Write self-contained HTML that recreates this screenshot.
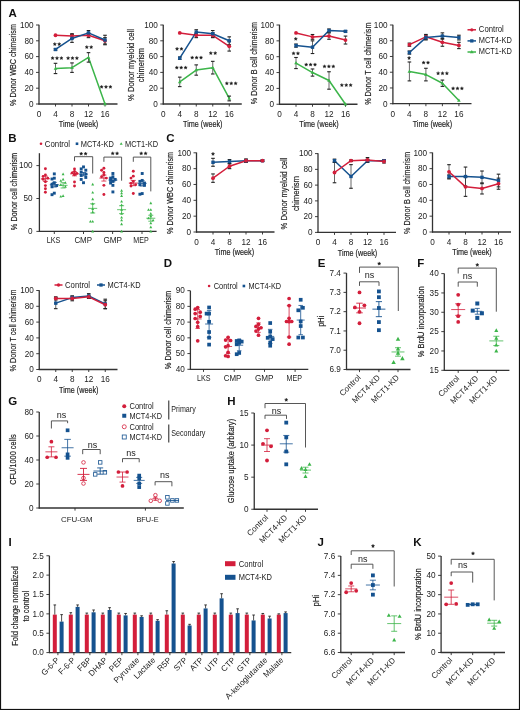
<!DOCTYPE html>
<html><head><meta charset="utf-8"><style>
html,body{margin:0;padding:0;background:#fff;}
svg{display:block;will-change:transform;}
text{font-family:"Liberation Sans",sans-serif;}
</style></head><body>
<svg width="520" height="710" viewBox="0 0 520 710">
<rect x="0" y="0" width="520" height="710" fill="#fff"/>
<text x="8.4" y="17.1" font-size="11.5" fill="#111" font-weight="bold" >A</text>
<line x1="39" y1="24.7" x2="39" y2="104.5" stroke="#333" stroke-width="1.3" />
<line x1="38.5" y1="104" x2="117.5" y2="104" stroke="#333" stroke-width="1.3" />
<line x1="36" y1="104" x2="39" y2="104" stroke="#2a2a2a" stroke-width="0.9" />
<text x="33.6" y="106.8" font-size="8.2" fill="#222" text-anchor="end" >0</text>
<line x1="36" y1="88.2" x2="39" y2="88.2" stroke="#2a2a2a" stroke-width="0.9" />
<text x="33.6" y="91" font-size="8.2" fill="#222" text-anchor="end" >20</text>
<line x1="36" y1="72.4" x2="39" y2="72.4" stroke="#2a2a2a" stroke-width="0.9" />
<text x="33.6" y="75.2" font-size="8.2" fill="#222" text-anchor="end" >40</text>
<line x1="36" y1="56.6" x2="39" y2="56.6" stroke="#2a2a2a" stroke-width="0.9" />
<text x="33.6" y="59.4" font-size="8.2" fill="#222" text-anchor="end" >60</text>
<line x1="36" y1="40.8" x2="39" y2="40.8" stroke="#2a2a2a" stroke-width="0.9" />
<text x="33.6" y="43.6" font-size="8.2" fill="#222" text-anchor="end" >80</text>
<line x1="36" y1="25" x2="39" y2="25" stroke="#2a2a2a" stroke-width="0.9" />
<text x="33.6" y="27.8" font-size="8.2" fill="#222" text-anchor="end" >100</text>
<text x="39" y="116.9" font-size="8.2" fill="#222" text-anchor="middle" >0</text>
<line x1="55.5" y1="104" x2="55.5" y2="106.5" stroke="#2a2a2a" stroke-width="0.9" />
<text x="55.5" y="116.9" font-size="8.2" fill="#222" text-anchor="middle" >4</text>
<line x1="72" y1="104" x2="72" y2="106.5" stroke="#2a2a2a" stroke-width="0.9" />
<text x="72" y="116.9" font-size="8.2" fill="#222" text-anchor="middle" >8</text>
<line x1="88.5" y1="104" x2="88.5" y2="106.5" stroke="#2a2a2a" stroke-width="0.9" />
<text x="88.5" y="116.9" font-size="8.2" fill="#222" text-anchor="middle" >12</text>
<line x1="105" y1="104" x2="105" y2="106.5" stroke="#2a2a2a" stroke-width="0.9" />
<text x="105" y="116.9" font-size="8.2" fill="#222" text-anchor="middle" >16</text>
<text x="78.5" y="127.2" font-size="9.2" fill="#222" stroke="#222" stroke-width="0.18" text-anchor="middle" textLength="39.5" lengthAdjust="spacingAndGlyphs" >Time (week)</text>
<text x="16.2" y="65" font-size="9.4" fill="#222" stroke="#222" stroke-width="0.18" text-anchor="middle" textLength="82" lengthAdjust="spacingAndGlyphs" transform="rotate(-90 16.2 65)" >% Donor WBC chimerism</text>
<polyline fill="none" stroke="#d31e3b" stroke-width="1.5" stroke-linejoin="round" points="55.5,35.27 72,36.06 88.5,35.27 105,40.8"/>
<polyline fill="none" stroke="#15528f" stroke-width="1.5" stroke-linejoin="round" points="55.5,49.49 72,38.43 88.5,32.9 105,40.01"/>
<polyline fill="none" stroke="#3cb54a" stroke-width="1.5" stroke-linejoin="round" points="55.5,68.45 72,67.66 88.5,57.39 105,104"/>
<line x1="72" y1="38.43" x2="72" y2="33.69" stroke="#333" stroke-width="0.75" />
<line x1="70.2" y1="33.69" x2="73.8" y2="33.69" stroke="#222" stroke-width="1.1" />
<line x1="70.2" y1="38.43" x2="73.8" y2="38.43" stroke="#222" stroke-width="1.1" />
<line x1="88.5" y1="37.64" x2="88.5" y2="32.9" stroke="#333" stroke-width="0.75" />
<line x1="86.7" y1="32.9" x2="90.3" y2="32.9" stroke="#222" stroke-width="1.1" />
<line x1="86.7" y1="37.64" x2="90.3" y2="37.64" stroke="#222" stroke-width="1.1" />
<line x1="105" y1="43.96" x2="105" y2="37.64" stroke="#333" stroke-width="0.75" />
<line x1="103.2" y1="37.64" x2="106.8" y2="37.64" stroke="#222" stroke-width="1.1" />
<line x1="103.2" y1="43.96" x2="106.8" y2="43.96" stroke="#222" stroke-width="1.1" />
<line x1="55.5" y1="50.28" x2="55.5" y2="48.7" stroke="#333" stroke-width="0.75" />
<line x1="53.7" y1="48.7" x2="57.3" y2="48.7" stroke="#222" stroke-width="1.1" />
<line x1="53.7" y1="50.28" x2="57.3" y2="50.28" stroke="#222" stroke-width="1.1" />
<line x1="72" y1="42.38" x2="72" y2="34.48" stroke="#333" stroke-width="0.75" />
<line x1="70.2" y1="34.48" x2="73.8" y2="34.48" stroke="#222" stroke-width="1.1" />
<line x1="70.2" y1="42.38" x2="73.8" y2="42.38" stroke="#222" stroke-width="1.1" />
<line x1="88.5" y1="35.27" x2="88.5" y2="30.53" stroke="#333" stroke-width="0.75" />
<line x1="86.7" y1="30.53" x2="90.3" y2="30.53" stroke="#222" stroke-width="1.1" />
<line x1="86.7" y1="35.27" x2="90.3" y2="35.27" stroke="#222" stroke-width="1.1" />
<line x1="105" y1="44.75" x2="105" y2="35.27" stroke="#333" stroke-width="0.75" />
<line x1="103.2" y1="35.27" x2="106.8" y2="35.27" stroke="#222" stroke-width="1.1" />
<line x1="103.2" y1="44.75" x2="106.8" y2="44.75" stroke="#222" stroke-width="1.1" />
<line x1="55.5" y1="73.58" x2="55.5" y2="63.31" stroke="#333" stroke-width="0.75" />
<line x1="53.7" y1="63.31" x2="57.3" y2="63.31" stroke="#222" stroke-width="1.1" />
<line x1="53.7" y1="73.58" x2="57.3" y2="73.58" stroke="#222" stroke-width="1.1" />
<line x1="72" y1="72.4" x2="72" y2="62.92" stroke="#333" stroke-width="0.75" />
<line x1="70.2" y1="62.92" x2="73.8" y2="62.92" stroke="#222" stroke-width="1.1" />
<line x1="70.2" y1="72.4" x2="73.8" y2="72.4" stroke="#222" stroke-width="1.1" />
<line x1="88.5" y1="62.13" x2="88.5" y2="52.65" stroke="#333" stroke-width="0.75" />
<line x1="86.7" y1="52.65" x2="90.3" y2="52.65" stroke="#222" stroke-width="1.1" />
<line x1="86.7" y1="62.13" x2="90.3" y2="62.13" stroke="#222" stroke-width="1.1" />
<circle cx="55.5" cy="35.27" r="1.9" fill="#d31e3b"/>
<circle cx="72" cy="36.06" r="1.9" fill="#d31e3b"/>
<circle cx="88.5" cy="35.27" r="1.9" fill="#d31e3b"/>
<circle cx="105" cy="40.8" r="1.9" fill="#d31e3b"/>
<rect x="53.8" y="47.79" width="3.4" height="3.4" fill="#15528f"/>
<rect x="70.3" y="36.73" width="3.4" height="3.4" fill="#15528f"/>
<rect x="86.8" y="31.2" width="3.4" height="3.4" fill="#15528f"/>
<rect x="103.3" y="38.31" width="3.4" height="3.4" fill="#15528f"/>
<polygon points="55.5,66.51 53.7,69.75 57.3,69.75" fill="#3cb54a"/>
<polygon points="72,65.72 70.2,68.96 73.8,68.96" fill="#3cb54a"/>
<polygon points="88.5,55.45 86.7,58.69 90.3,58.69" fill="#3cb54a"/>
<polygon points="105,102.06 103.2,105.3 106.8,105.3" fill="#3cb54a"/>
<polygon points="54.8,42.4 55.29,43.47 56.46,43.61 55.6,44.41 55.83,45.57 54.8,44.99 53.77,45.57 54,44.41 53.14,43.61 54.31,43.47" fill="#1a1a1a" stroke="#1a1a1a" stroke-width="0.35" stroke-linejoin="round"/>
<polygon points="59.2,42.4 59.69,43.47 60.86,43.61 60,44.41 60.23,45.57 59.2,44.99 58.17,45.57 58.4,44.41 57.54,43.61 58.71,43.47" fill="#1a1a1a" stroke="#1a1a1a" stroke-width="0.35" stroke-linejoin="round"/>
<polygon points="52.6,56.4 53.09,57.47 54.26,57.61 53.4,58.41 53.63,59.57 52.6,58.99 51.57,59.57 51.8,58.41 50.94,57.61 52.11,57.47" fill="#1a1a1a" stroke="#1a1a1a" stroke-width="0.35" stroke-linejoin="round"/>
<polygon points="57,56.4 57.49,57.47 58.66,57.61 57.8,58.41 58.03,59.57 57,58.99 55.97,59.57 56.2,58.41 55.34,57.61 56.51,57.47" fill="#1a1a1a" stroke="#1a1a1a" stroke-width="0.35" stroke-linejoin="round"/>
<polygon points="61.4,56.4 61.89,57.47 63.06,57.61 62.2,58.41 62.43,59.57 61.4,58.99 60.37,59.57 60.6,58.41 59.74,57.61 60.91,57.47" fill="#1a1a1a" stroke="#1a1a1a" stroke-width="0.35" stroke-linejoin="round"/>
<polygon points="68.1,56.4 68.59,57.47 69.76,57.61 68.9,58.41 69.13,59.57 68.1,58.99 67.07,59.57 67.3,58.41 66.44,57.61 67.61,57.47" fill="#1a1a1a" stroke="#1a1a1a" stroke-width="0.35" stroke-linejoin="round"/>
<polygon points="72.5,56.4 72.99,57.47 74.16,57.61 73.3,58.41 73.53,59.57 72.5,58.99 71.47,59.57 71.7,58.41 70.84,57.61 72.01,57.47" fill="#1a1a1a" stroke="#1a1a1a" stroke-width="0.35" stroke-linejoin="round"/>
<polygon points="76.9,56.4 77.39,57.47 78.56,57.61 77.7,58.41 77.93,59.57 76.9,58.99 75.87,59.57 76.1,58.41 75.24,57.61 76.41,57.47" fill="#1a1a1a" stroke="#1a1a1a" stroke-width="0.35" stroke-linejoin="round"/>
<polygon points="86.8,45.4 87.29,46.47 88.46,46.61 87.6,47.41 87.83,48.57 86.8,47.99 85.77,48.57 86,47.41 85.14,46.61 86.31,46.47" fill="#1a1a1a" stroke="#1a1a1a" stroke-width="0.35" stroke-linejoin="round"/>
<polygon points="91.2,45.4 91.69,46.47 92.86,46.61 92,47.41 92.23,48.57 91.2,47.99 90.17,48.57 90.4,47.41 89.54,46.61 90.71,46.47" fill="#1a1a1a" stroke="#1a1a1a" stroke-width="0.35" stroke-linejoin="round"/>
<polygon points="101.6,85.15 102.09,86.22 103.26,86.36 102.4,87.16 102.63,88.32 101.6,87.74 100.57,88.32 100.8,87.16 99.94,86.36 101.11,86.22" fill="#1a1a1a" stroke="#1a1a1a" stroke-width="0.35" stroke-linejoin="round"/>
<polygon points="106,85.15 106.49,86.22 107.66,86.36 106.8,87.16 107.03,88.32 106,87.74 104.97,88.32 105.2,87.16 104.34,86.36 105.51,86.22" fill="#1a1a1a" stroke="#1a1a1a" stroke-width="0.35" stroke-linejoin="round"/>
<polygon points="110.4,85.15 110.89,86.22 112.06,86.36 111.2,87.16 111.43,88.32 110.4,87.74 109.37,88.32 109.6,87.16 108.74,86.36 109.91,86.22" fill="#1a1a1a" stroke="#1a1a1a" stroke-width="0.35" stroke-linejoin="round"/>
<line x1="163.25" y1="24.7" x2="163.25" y2="104.5" stroke="#333" stroke-width="1.3" />
<line x1="162.75" y1="104" x2="241.75" y2="104" stroke="#333" stroke-width="1.3" />
<line x1="160.25" y1="104" x2="163.25" y2="104" stroke="#2a2a2a" stroke-width="0.9" />
<text x="157.85" y="106.8" font-size="8.2" fill="#222" text-anchor="end" >0</text>
<line x1="160.25" y1="88.2" x2="163.25" y2="88.2" stroke="#2a2a2a" stroke-width="0.9" />
<text x="157.85" y="91" font-size="8.2" fill="#222" text-anchor="end" >20</text>
<line x1="160.25" y1="72.4" x2="163.25" y2="72.4" stroke="#2a2a2a" stroke-width="0.9" />
<text x="157.85" y="75.2" font-size="8.2" fill="#222" text-anchor="end" >40</text>
<line x1="160.25" y1="56.6" x2="163.25" y2="56.6" stroke="#2a2a2a" stroke-width="0.9" />
<text x="157.85" y="59.4" font-size="8.2" fill="#222" text-anchor="end" >60</text>
<line x1="160.25" y1="40.8" x2="163.25" y2="40.8" stroke="#2a2a2a" stroke-width="0.9" />
<text x="157.85" y="43.6" font-size="8.2" fill="#222" text-anchor="end" >80</text>
<line x1="160.25" y1="25" x2="163.25" y2="25" stroke="#2a2a2a" stroke-width="0.9" />
<text x="157.85" y="27.8" font-size="8.2" fill="#222" text-anchor="end" >100</text>
<text x="163.25" y="116.9" font-size="8.2" fill="#222" text-anchor="middle" >0</text>
<line x1="179.75" y1="104" x2="179.75" y2="106.5" stroke="#2a2a2a" stroke-width="0.9" />
<text x="179.75" y="116.9" font-size="8.2" fill="#222" text-anchor="middle" >4</text>
<line x1="196.25" y1="104" x2="196.25" y2="106.5" stroke="#2a2a2a" stroke-width="0.9" />
<text x="196.25" y="116.9" font-size="8.2" fill="#222" text-anchor="middle" >8</text>
<line x1="212.75" y1="104" x2="212.75" y2="106.5" stroke="#2a2a2a" stroke-width="0.9" />
<text x="212.75" y="116.9" font-size="8.2" fill="#222" text-anchor="middle" >12</text>
<line x1="229.25" y1="104" x2="229.25" y2="106.5" stroke="#2a2a2a" stroke-width="0.9" />
<text x="229.25" y="116.9" font-size="8.2" fill="#222" text-anchor="middle" >16</text>
<text x="202.75" y="127.2" font-size="9.2" fill="#222" stroke="#222" stroke-width="0.18" text-anchor="middle" textLength="39.5" lengthAdjust="spacingAndGlyphs" >Time (week)</text>
<text x="134" y="65" font-size="9.4" fill="#222" stroke="#222" stroke-width="0.18" text-anchor="middle" textLength="72" lengthAdjust="spacingAndGlyphs" transform="rotate(-90 134 65)" >% Donor myeloid cell</text>
<text x="144.3" y="65" font-size="9.4" fill="#222" stroke="#222" stroke-width="0.18" text-anchor="middle" textLength="34.3" lengthAdjust="spacingAndGlyphs" transform="rotate(-90 144.3 65)" >chimerism</text>
<polyline fill="none" stroke="#d31e3b" stroke-width="1.5" stroke-linejoin="round" points="179.75,32.9 196.25,35.27 212.75,35.27 229.25,46.33"/>
<polyline fill="none" stroke="#15528f" stroke-width="1.5" stroke-linejoin="round" points="179.75,58.18 196.25,32.11 212.75,33.69 229.25,40.8"/>
<polyline fill="none" stroke="#3cb54a" stroke-width="1.5" stroke-linejoin="round" points="179.75,81.88 196.25,70.03 212.75,67.66 229.25,98.47"/>
<line x1="196.25" y1="37.64" x2="196.25" y2="32.9" stroke="#333" stroke-width="0.75" />
<line x1="194.45" y1="32.9" x2="198.05" y2="32.9" stroke="#222" stroke-width="1.1" />
<line x1="194.45" y1="37.64" x2="198.05" y2="37.64" stroke="#222" stroke-width="1.1" />
<line x1="212.75" y1="37.64" x2="212.75" y2="32.9" stroke="#333" stroke-width="0.75" />
<line x1="210.95" y1="32.9" x2="214.55" y2="32.9" stroke="#222" stroke-width="1.1" />
<line x1="210.95" y1="37.64" x2="214.55" y2="37.64" stroke="#222" stroke-width="1.1" />
<line x1="229.25" y1="51.07" x2="229.25" y2="41.59" stroke="#333" stroke-width="0.75" />
<line x1="227.45" y1="41.59" x2="231.05" y2="41.59" stroke="#222" stroke-width="1.1" />
<line x1="227.45" y1="51.07" x2="231.05" y2="51.07" stroke="#222" stroke-width="1.1" />
<line x1="179.75" y1="59.36" x2="179.75" y2="56.99" stroke="#333" stroke-width="0.75" />
<line x1="177.95" y1="56.99" x2="181.55" y2="56.99" stroke="#222" stroke-width="1.1" />
<line x1="177.95" y1="59.36" x2="181.55" y2="59.36" stroke="#222" stroke-width="1.1" />
<line x1="196.25" y1="34.48" x2="196.25" y2="29.74" stroke="#333" stroke-width="0.75" />
<line x1="194.45" y1="29.74" x2="198.05" y2="29.74" stroke="#222" stroke-width="1.1" />
<line x1="194.45" y1="34.48" x2="198.05" y2="34.48" stroke="#222" stroke-width="1.1" />
<line x1="212.75" y1="36.85" x2="212.75" y2="30.53" stroke="#333" stroke-width="0.75" />
<line x1="210.95" y1="30.53" x2="214.55" y2="30.53" stroke="#222" stroke-width="1.1" />
<line x1="210.95" y1="36.85" x2="214.55" y2="36.85" stroke="#222" stroke-width="1.1" />
<line x1="229.25" y1="44.75" x2="229.25" y2="36.85" stroke="#333" stroke-width="0.75" />
<line x1="227.45" y1="36.85" x2="231.05" y2="36.85" stroke="#222" stroke-width="1.1" />
<line x1="227.45" y1="44.75" x2="231.05" y2="44.75" stroke="#222" stroke-width="1.1" />
<line x1="179.75" y1="86.62" x2="179.75" y2="77.14" stroke="#333" stroke-width="0.75" />
<line x1="177.95" y1="77.14" x2="181.55" y2="77.14" stroke="#222" stroke-width="1.1" />
<line x1="177.95" y1="86.62" x2="181.55" y2="86.62" stroke="#222" stroke-width="1.1" />
<line x1="196.25" y1="75.16" x2="196.25" y2="64.89" stroke="#333" stroke-width="0.75" />
<line x1="194.45" y1="64.89" x2="198.05" y2="64.89" stroke="#222" stroke-width="1.1" />
<line x1="194.45" y1="75.16" x2="198.05" y2="75.16" stroke="#222" stroke-width="1.1" />
<line x1="212.75" y1="73.98" x2="212.75" y2="61.34" stroke="#333" stroke-width="0.75" />
<line x1="210.95" y1="61.34" x2="214.55" y2="61.34" stroke="#222" stroke-width="1.1" />
<line x1="210.95" y1="73.98" x2="214.55" y2="73.98" stroke="#222" stroke-width="1.1" />
<line x1="229.25" y1="100.84" x2="229.25" y2="96.1" stroke="#333" stroke-width="0.75" />
<line x1="227.45" y1="96.1" x2="231.05" y2="96.1" stroke="#222" stroke-width="1.1" />
<line x1="227.45" y1="100.84" x2="231.05" y2="100.84" stroke="#222" stroke-width="1.1" />
<circle cx="179.75" cy="32.9" r="1.9" fill="#d31e3b"/>
<circle cx="196.25" cy="35.27" r="1.9" fill="#d31e3b"/>
<circle cx="212.75" cy="35.27" r="1.9" fill="#d31e3b"/>
<circle cx="229.25" cy="46.33" r="1.9" fill="#d31e3b"/>
<rect x="178.05" y="56.48" width="3.4" height="3.4" fill="#15528f"/>
<rect x="194.55" y="30.41" width="3.4" height="3.4" fill="#15528f"/>
<rect x="211.05" y="31.99" width="3.4" height="3.4" fill="#15528f"/>
<rect x="227.55" y="39.1" width="3.4" height="3.4" fill="#15528f"/>
<polygon points="179.75,79.94 177.95,83.18 181.55,83.18" fill="#3cb54a"/>
<polygon points="196.25,68.09 194.45,71.33 198.05,71.33" fill="#3cb54a"/>
<polygon points="212.75,65.72 210.95,68.96 214.55,68.96" fill="#3cb54a"/>
<polygon points="229.25,96.53 227.45,99.77 231.05,99.77" fill="#3cb54a"/>
<polygon points="177.05,47.15 177.54,48.22 178.71,48.36 177.85,49.16 178.08,50.32 177.05,49.74 176.02,50.32 176.25,49.16 175.39,48.36 176.56,48.22" fill="#1a1a1a" stroke="#1a1a1a" stroke-width="0.35" stroke-linejoin="round"/>
<polygon points="181.45,47.15 181.94,48.22 183.11,48.36 182.25,49.16 182.48,50.32 181.45,49.74 180.42,50.32 180.65,49.16 179.79,48.36 180.96,48.22" fill="#1a1a1a" stroke="#1a1a1a" stroke-width="0.35" stroke-linejoin="round"/>
<polygon points="176.8,65.9 177.29,66.97 178.46,67.11 177.6,67.91 177.83,69.07 176.8,68.49 175.77,69.07 176,67.91 175.14,67.11 176.31,66.97" fill="#1a1a1a" stroke="#1a1a1a" stroke-width="0.35" stroke-linejoin="round"/>
<polygon points="181.2,65.9 181.69,66.97 182.86,67.11 182,67.91 182.23,69.07 181.2,68.49 180.17,69.07 180.4,67.91 179.54,67.11 180.71,66.97" fill="#1a1a1a" stroke="#1a1a1a" stroke-width="0.35" stroke-linejoin="round"/>
<polygon points="185.6,65.9 186.09,66.97 187.26,67.11 186.4,67.91 186.63,69.07 185.6,68.49 184.57,69.07 184.8,67.91 183.94,67.11 185.11,66.97" fill="#1a1a1a" stroke="#1a1a1a" stroke-width="0.35" stroke-linejoin="round"/>
<polygon points="192.2,55.9 192.69,56.97 193.86,57.11 193,57.91 193.23,59.07 192.2,58.49 191.17,59.07 191.4,57.91 190.54,57.11 191.71,56.97" fill="#1a1a1a" stroke="#1a1a1a" stroke-width="0.35" stroke-linejoin="round"/>
<polygon points="196.6,55.9 197.09,56.97 198.26,57.11 197.4,57.91 197.63,59.07 196.6,58.49 195.57,59.07 195.8,57.91 194.94,57.11 196.11,56.97" fill="#1a1a1a" stroke="#1a1a1a" stroke-width="0.35" stroke-linejoin="round"/>
<polygon points="201,55.9 201.49,56.97 202.66,57.11 201.8,57.91 202.03,59.07 201,58.49 199.97,59.07 200.2,57.91 199.34,57.11 200.51,56.97" fill="#1a1a1a" stroke="#1a1a1a" stroke-width="0.35" stroke-linejoin="round"/>
<polygon points="210.8,51.4 211.29,52.47 212.46,52.61 211.6,53.41 211.83,54.57 210.8,53.99 209.77,54.57 210,53.41 209.14,52.61 210.31,52.47" fill="#1a1a1a" stroke="#1a1a1a" stroke-width="0.35" stroke-linejoin="round"/>
<polygon points="215.2,51.4 215.69,52.47 216.86,52.61 216,53.41 216.23,54.57 215.2,53.99 214.17,54.57 214.4,53.41 213.54,52.61 214.71,52.47" fill="#1a1a1a" stroke="#1a1a1a" stroke-width="0.35" stroke-linejoin="round"/>
<polygon points="226.85,81.65 227.34,82.72 228.51,82.86 227.65,83.66 227.88,84.82 226.85,84.24 225.82,84.82 226.05,83.66 225.19,82.86 226.36,82.72" fill="#1a1a1a" stroke="#1a1a1a" stroke-width="0.35" stroke-linejoin="round"/>
<polygon points="231.25,81.65 231.74,82.72 232.91,82.86 232.05,83.66 232.28,84.82 231.25,84.24 230.22,84.82 230.45,83.66 229.59,82.86 230.76,82.72" fill="#1a1a1a" stroke="#1a1a1a" stroke-width="0.35" stroke-linejoin="round"/>
<polygon points="235.65,81.65 236.14,82.72 237.31,82.86 236.45,83.66 236.68,84.82 235.65,84.24 234.62,84.82 234.85,83.66 233.99,82.86 235.16,82.72" fill="#1a1a1a" stroke="#1a1a1a" stroke-width="0.35" stroke-linejoin="round"/>
<line x1="279.5" y1="24.7" x2="279.5" y2="104.75" stroke="#333" stroke-width="1.3" />
<line x1="279" y1="104.25" x2="357.5" y2="104.25" stroke="#333" stroke-width="1.3" />
<line x1="276.5" y1="104.25" x2="279.5" y2="104.25" stroke="#2a2a2a" stroke-width="0.9" />
<text x="274.1" y="107.05" font-size="8.2" fill="#222" text-anchor="end" >0</text>
<line x1="276.5" y1="88.4" x2="279.5" y2="88.4" stroke="#2a2a2a" stroke-width="0.9" />
<text x="274.1" y="91.2" font-size="8.2" fill="#222" text-anchor="end" >20</text>
<line x1="276.5" y1="72.55" x2="279.5" y2="72.55" stroke="#2a2a2a" stroke-width="0.9" />
<text x="274.1" y="75.35" font-size="8.2" fill="#222" text-anchor="end" >40</text>
<line x1="276.5" y1="56.7" x2="279.5" y2="56.7" stroke="#2a2a2a" stroke-width="0.9" />
<text x="274.1" y="59.5" font-size="8.2" fill="#222" text-anchor="end" >60</text>
<line x1="276.5" y1="40.85" x2="279.5" y2="40.85" stroke="#2a2a2a" stroke-width="0.9" />
<text x="274.1" y="43.65" font-size="8.2" fill="#222" text-anchor="end" >80</text>
<line x1="276.5" y1="25" x2="279.5" y2="25" stroke="#2a2a2a" stroke-width="0.9" />
<text x="274.1" y="27.8" font-size="8.2" fill="#222" text-anchor="end" >100</text>
<text x="279.5" y="117.15" font-size="8.2" fill="#222" text-anchor="middle" >0</text>
<line x1="296" y1="104.25" x2="296" y2="106.75" stroke="#2a2a2a" stroke-width="0.9" />
<text x="296" y="117.15" font-size="8.2" fill="#222" text-anchor="middle" >4</text>
<line x1="312.5" y1="104.25" x2="312.5" y2="106.75" stroke="#2a2a2a" stroke-width="0.9" />
<text x="312.5" y="117.15" font-size="8.2" fill="#222" text-anchor="middle" >8</text>
<line x1="329" y1="104.25" x2="329" y2="106.75" stroke="#2a2a2a" stroke-width="0.9" />
<text x="329" y="117.15" font-size="8.2" fill="#222" text-anchor="middle" >12</text>
<line x1="345.5" y1="104.25" x2="345.5" y2="106.75" stroke="#2a2a2a" stroke-width="0.9" />
<text x="345.5" y="117.15" font-size="8.2" fill="#222" text-anchor="middle" >16</text>
<text x="319" y="127.45" font-size="9.2" fill="#222" stroke="#222" stroke-width="0.18" text-anchor="middle" textLength="39.5" lengthAdjust="spacingAndGlyphs" >Time (week)</text>
<text x="257.1" y="63.1" font-size="9.4" fill="#222" stroke="#222" stroke-width="0.18" text-anchor="middle" textLength="82.3" lengthAdjust="spacingAndGlyphs" transform="rotate(-90 257.1 63.1)" >% Donor B cell chimerism</text>
<polyline fill="none" stroke="#d31e3b" stroke-width="1.5" stroke-linejoin="round" points="296,32.92 312.5,36.89 329,36.09 345.5,40.06"/>
<polyline fill="none" stroke="#15528f" stroke-width="1.5" stroke-linejoin="round" points="296,45.61 312.5,47.19 329,30.55 345.5,31.34"/>
<polyline fill="none" stroke="#3cb54a" stroke-width="1.5" stroke-linejoin="round" points="296,63.04 312.5,72.55 329,80.47 345.5,104.25"/>
<line x1="312.5" y1="39.27" x2="312.5" y2="34.51" stroke="#333" stroke-width="0.75" />
<line x1="310.7" y1="34.51" x2="314.3" y2="34.51" stroke="#222" stroke-width="1.1" />
<line x1="310.7" y1="39.27" x2="314.3" y2="39.27" stroke="#222" stroke-width="1.1" />
<line x1="329" y1="39.27" x2="329" y2="32.92" stroke="#333" stroke-width="0.75" />
<line x1="327.2" y1="32.92" x2="330.8" y2="32.92" stroke="#222" stroke-width="1.1" />
<line x1="327.2" y1="39.27" x2="330.8" y2="39.27" stroke="#222" stroke-width="1.1" />
<line x1="345.5" y1="44.02" x2="345.5" y2="36.09" stroke="#333" stroke-width="0.75" />
<line x1="343.7" y1="36.09" x2="347.3" y2="36.09" stroke="#222" stroke-width="1.1" />
<line x1="343.7" y1="44.02" x2="347.3" y2="44.02" stroke="#222" stroke-width="1.1" />
<line x1="296" y1="47.19" x2="296" y2="44.02" stroke="#333" stroke-width="0.75" />
<line x1="294.2" y1="44.02" x2="297.8" y2="44.02" stroke="#222" stroke-width="1.1" />
<line x1="294.2" y1="47.19" x2="297.8" y2="47.19" stroke="#222" stroke-width="1.1" />
<line x1="312.5" y1="53.53" x2="312.5" y2="40.85" stroke="#333" stroke-width="0.75" />
<line x1="310.7" y1="40.85" x2="314.3" y2="40.85" stroke="#222" stroke-width="1.1" />
<line x1="310.7" y1="53.53" x2="314.3" y2="53.53" stroke="#222" stroke-width="1.1" />
<line x1="329" y1="32.13" x2="329" y2="28.96" stroke="#333" stroke-width="0.75" />
<line x1="327.2" y1="28.96" x2="330.8" y2="28.96" stroke="#222" stroke-width="1.1" />
<line x1="327.2" y1="32.13" x2="330.8" y2="32.13" stroke="#222" stroke-width="1.1" />
<line x1="345.5" y1="32.13" x2="345.5" y2="30.55" stroke="#333" stroke-width="0.75" />
<line x1="343.7" y1="30.55" x2="347.3" y2="30.55" stroke="#222" stroke-width="1.1" />
<line x1="343.7" y1="32.13" x2="347.3" y2="32.13" stroke="#222" stroke-width="1.1" />
<line x1="296" y1="68.59" x2="296" y2="57.49" stroke="#333" stroke-width="0.75" />
<line x1="294.2" y1="57.49" x2="297.8" y2="57.49" stroke="#222" stroke-width="1.1" />
<line x1="294.2" y1="68.59" x2="297.8" y2="68.59" stroke="#222" stroke-width="1.1" />
<line x1="312.5" y1="76.12" x2="312.5" y2="68.98" stroke="#333" stroke-width="0.75" />
<line x1="310.7" y1="68.98" x2="314.3" y2="68.98" stroke="#222" stroke-width="1.1" />
<line x1="310.7" y1="76.12" x2="314.3" y2="76.12" stroke="#222" stroke-width="1.1" />
<line x1="329" y1="89.19" x2="329" y2="71.76" stroke="#333" stroke-width="0.75" />
<line x1="327.2" y1="71.76" x2="330.8" y2="71.76" stroke="#222" stroke-width="1.1" />
<line x1="327.2" y1="89.19" x2="330.8" y2="89.19" stroke="#222" stroke-width="1.1" />
<circle cx="296" cy="32.92" r="1.9" fill="#d31e3b"/>
<circle cx="312.5" cy="36.89" r="1.9" fill="#d31e3b"/>
<circle cx="329" cy="36.09" r="1.9" fill="#d31e3b"/>
<circle cx="345.5" cy="40.06" r="1.9" fill="#d31e3b"/>
<rect x="294.3" y="43.91" width="3.4" height="3.4" fill="#15528f"/>
<rect x="310.8" y="45.49" width="3.4" height="3.4" fill="#15528f"/>
<rect x="327.3" y="28.85" width="3.4" height="3.4" fill="#15528f"/>
<rect x="343.8" y="29.64" width="3.4" height="3.4" fill="#15528f"/>
<polygon points="296,61.1 294.2,64.34 297.8,64.34" fill="#3cb54a"/>
<polygon points="312.5,70.61 310.7,73.85 314.3,73.85" fill="#3cb54a"/>
<polygon points="329,78.53 327.2,81.77 330.8,81.77" fill="#3cb54a"/>
<polygon points="345.5,102.31 343.7,105.55 347.3,105.55" fill="#3cb54a"/>
<polygon points="295.75,37.15 296.24,38.22 297.41,38.36 296.55,39.16 296.78,40.32 295.75,39.74 294.72,40.32 294.95,39.16 294.09,38.36 295.26,38.22" fill="#1a1a1a" stroke="#1a1a1a" stroke-width="0.35" stroke-linejoin="round"/>
<polygon points="293.55,51.65 294.04,52.72 295.21,52.86 294.35,53.66 294.58,54.82 293.55,54.24 292.52,54.82 292.75,53.66 291.89,52.86 293.06,52.72" fill="#1a1a1a" stroke="#1a1a1a" stroke-width="0.35" stroke-linejoin="round"/>
<polygon points="297.95,51.65 298.44,52.72 299.61,52.86 298.75,53.66 298.98,54.82 297.95,54.24 296.92,54.82 297.15,53.66 296.29,52.86 297.46,52.72" fill="#1a1a1a" stroke="#1a1a1a" stroke-width="0.35" stroke-linejoin="round"/>
<polygon points="306.2,62.9 306.69,63.97 307.86,64.11 307,64.91 307.23,66.07 306.2,65.49 305.17,66.07 305.4,64.91 304.54,64.11 305.71,63.97" fill="#1a1a1a" stroke="#1a1a1a" stroke-width="0.35" stroke-linejoin="round"/>
<polygon points="310.6,62.9 311.09,63.97 312.26,64.11 311.4,64.91 311.63,66.07 310.6,65.49 309.57,66.07 309.8,64.91 308.94,64.11 310.11,63.97" fill="#1a1a1a" stroke="#1a1a1a" stroke-width="0.35" stroke-linejoin="round"/>
<polygon points="315,62.9 315.49,63.97 316.66,64.11 315.8,64.91 316.03,66.07 315,65.49 313.97,66.07 314.2,64.91 313.34,64.11 314.51,63.97" fill="#1a1a1a" stroke="#1a1a1a" stroke-width="0.35" stroke-linejoin="round"/>
<polygon points="324.5,64.7 324.99,65.77 326.16,65.91 325.3,66.71 325.53,67.87 324.5,67.29 323.47,67.87 323.7,66.71 322.84,65.91 324.01,65.77" fill="#1a1a1a" stroke="#1a1a1a" stroke-width="0.35" stroke-linejoin="round"/>
<polygon points="328.9,64.7 329.39,65.77 330.56,65.91 329.7,66.71 329.93,67.87 328.9,67.29 327.87,67.87 328.1,66.71 327.24,65.91 328.41,65.77" fill="#1a1a1a" stroke="#1a1a1a" stroke-width="0.35" stroke-linejoin="round"/>
<polygon points="333.3,64.7 333.79,65.77 334.96,65.91 334.1,66.71 334.33,67.87 333.3,67.29 332.27,67.87 332.5,66.71 331.64,65.91 332.81,65.77" fill="#1a1a1a" stroke="#1a1a1a" stroke-width="0.35" stroke-linejoin="round"/>
<polygon points="341.85,83.4 342.34,84.47 343.51,84.61 342.65,85.41 342.88,86.57 341.85,85.99 340.82,86.57 341.05,85.41 340.19,84.61 341.36,84.47" fill="#1a1a1a" stroke="#1a1a1a" stroke-width="0.35" stroke-linejoin="round"/>
<polygon points="346.25,83.4 346.74,84.47 347.91,84.61 347.05,85.41 347.28,86.57 346.25,85.99 345.22,86.57 345.45,85.41 344.59,84.61 345.76,84.47" fill="#1a1a1a" stroke="#1a1a1a" stroke-width="0.35" stroke-linejoin="round"/>
<polygon points="350.65,83.4 351.14,84.47 352.31,84.61 351.45,85.41 351.68,86.57 350.65,85.99 349.62,86.57 349.85,85.41 348.99,84.61 350.16,84.47" fill="#1a1a1a" stroke="#1a1a1a" stroke-width="0.35" stroke-linejoin="round"/>
<line x1="392.9" y1="24.7" x2="392.9" y2="104.2" stroke="#333" stroke-width="1.3" />
<line x1="392.4" y1="103.7" x2="471.5" y2="103.7" stroke="#333" stroke-width="1.3" />
<line x1="389.9" y1="103.7" x2="392.9" y2="103.7" stroke="#2a2a2a" stroke-width="0.9" />
<text x="387.5" y="106.5" font-size="8.2" fill="#222" text-anchor="end" >0</text>
<line x1="389.9" y1="87.96" x2="392.9" y2="87.96" stroke="#2a2a2a" stroke-width="0.9" />
<text x="387.5" y="90.76" font-size="8.2" fill="#222" text-anchor="end" >20</text>
<line x1="389.9" y1="72.22" x2="392.9" y2="72.22" stroke="#2a2a2a" stroke-width="0.9" />
<text x="387.5" y="75.02" font-size="8.2" fill="#222" text-anchor="end" >40</text>
<line x1="389.9" y1="56.48" x2="392.9" y2="56.48" stroke="#2a2a2a" stroke-width="0.9" />
<text x="387.5" y="59.28" font-size="8.2" fill="#222" text-anchor="end" >60</text>
<line x1="389.9" y1="40.74" x2="392.9" y2="40.74" stroke="#2a2a2a" stroke-width="0.9" />
<text x="387.5" y="43.54" font-size="8.2" fill="#222" text-anchor="end" >80</text>
<line x1="389.9" y1="25" x2="392.9" y2="25" stroke="#2a2a2a" stroke-width="0.9" />
<text x="387.5" y="27.8" font-size="8.2" fill="#222" text-anchor="end" >100</text>
<text x="392.9" y="116.6" font-size="8.2" fill="#222" text-anchor="middle" >0</text>
<line x1="409.4" y1="103.7" x2="409.4" y2="106.2" stroke="#2a2a2a" stroke-width="0.9" />
<text x="409.4" y="116.6" font-size="8.2" fill="#222" text-anchor="middle" >4</text>
<line x1="425.9" y1="103.7" x2="425.9" y2="106.2" stroke="#2a2a2a" stroke-width="0.9" />
<text x="425.9" y="116.6" font-size="8.2" fill="#222" text-anchor="middle" >8</text>
<line x1="442.4" y1="103.7" x2="442.4" y2="106.2" stroke="#2a2a2a" stroke-width="0.9" />
<text x="442.4" y="116.6" font-size="8.2" fill="#222" text-anchor="middle" >12</text>
<line x1="458.9" y1="103.7" x2="458.9" y2="106.2" stroke="#2a2a2a" stroke-width="0.9" />
<text x="458.9" y="116.6" font-size="8.2" fill="#222" text-anchor="middle" >16</text>
<text x="432.4" y="126.9" font-size="9.2" fill="#222" stroke="#222" stroke-width="0.18" text-anchor="middle" textLength="39.5" lengthAdjust="spacingAndGlyphs" >Time (week)</text>
<text x="370.8" y="63.7" font-size="9.4" fill="#222" stroke="#222" stroke-width="0.18" text-anchor="middle" textLength="82.3" lengthAdjust="spacingAndGlyphs" transform="rotate(-90 370.8 63.7)" >% Donor T cell chimerism</text>
<polyline fill="none" stroke="#d31e3b" stroke-width="1.5" stroke-linejoin="round" points="409.4,44.67 425.9,36.81 442.4,42.31 458.9,45.46"/>
<polyline fill="none" stroke="#15528f" stroke-width="1.5" stroke-linejoin="round" points="409.4,52.55 425.9,37.59 442.4,36.02 458.9,37.59"/>
<polyline fill="none" stroke="#3cb54a" stroke-width="1.5" stroke-linejoin="round" points="409.4,71.43 425.9,74.58 442.4,83.24 458.9,100.55"/>
<line x1="409.4" y1="46.25" x2="409.4" y2="43.1" stroke="#333" stroke-width="0.75" />
<line x1="407.6" y1="43.1" x2="411.2" y2="43.1" stroke="#222" stroke-width="1.1" />
<line x1="407.6" y1="46.25" x2="411.2" y2="46.25" stroke="#222" stroke-width="1.1" />
<line x1="425.9" y1="39.17" x2="425.9" y2="34.44" stroke="#333" stroke-width="0.75" />
<line x1="424.1" y1="34.44" x2="427.7" y2="34.44" stroke="#222" stroke-width="1.1" />
<line x1="424.1" y1="39.17" x2="427.7" y2="39.17" stroke="#222" stroke-width="1.1" />
<line x1="442.4" y1="46.25" x2="442.4" y2="38.38" stroke="#333" stroke-width="0.75" />
<line x1="440.6" y1="38.38" x2="444.2" y2="38.38" stroke="#222" stroke-width="1.1" />
<line x1="440.6" y1="46.25" x2="444.2" y2="46.25" stroke="#222" stroke-width="1.1" />
<line x1="458.9" y1="48.61" x2="458.9" y2="42.31" stroke="#333" stroke-width="0.75" />
<line x1="457.1" y1="42.31" x2="460.7" y2="42.31" stroke="#222" stroke-width="1.1" />
<line x1="457.1" y1="48.61" x2="460.7" y2="48.61" stroke="#222" stroke-width="1.1" />
<line x1="409.4" y1="54.12" x2="409.4" y2="50.97" stroke="#333" stroke-width="0.75" />
<line x1="407.6" y1="50.97" x2="411.2" y2="50.97" stroke="#222" stroke-width="1.1" />
<line x1="407.6" y1="54.12" x2="411.2" y2="54.12" stroke="#222" stroke-width="1.1" />
<line x1="425.9" y1="39.95" x2="425.9" y2="35.23" stroke="#333" stroke-width="0.75" />
<line x1="424.1" y1="35.23" x2="427.7" y2="35.23" stroke="#222" stroke-width="1.1" />
<line x1="424.1" y1="39.95" x2="427.7" y2="39.95" stroke="#222" stroke-width="1.1" />
<line x1="442.4" y1="39.17" x2="442.4" y2="32.87" stroke="#333" stroke-width="0.75" />
<line x1="440.6" y1="32.87" x2="444.2" y2="32.87" stroke="#222" stroke-width="1.1" />
<line x1="440.6" y1="39.17" x2="444.2" y2="39.17" stroke="#222" stroke-width="1.1" />
<line x1="458.9" y1="39.95" x2="458.9" y2="35.23" stroke="#333" stroke-width="0.75" />
<line x1="457.1" y1="35.23" x2="460.7" y2="35.23" stroke="#222" stroke-width="1.1" />
<line x1="457.1" y1="39.95" x2="460.7" y2="39.95" stroke="#222" stroke-width="1.1" />
<line x1="409.4" y1="80.88" x2="409.4" y2="61.99" stroke="#333" stroke-width="0.75" />
<line x1="407.6" y1="61.99" x2="411.2" y2="61.99" stroke="#222" stroke-width="1.1" />
<line x1="407.6" y1="80.88" x2="411.2" y2="80.88" stroke="#222" stroke-width="1.1" />
<line x1="425.9" y1="80.88" x2="425.9" y2="68.28" stroke="#333" stroke-width="0.75" />
<line x1="424.1" y1="68.28" x2="427.7" y2="68.28" stroke="#222" stroke-width="1.1" />
<line x1="424.1" y1="80.88" x2="427.7" y2="80.88" stroke="#222" stroke-width="1.1" />
<line x1="442.4" y1="86.39" x2="442.4" y2="80.09" stroke="#333" stroke-width="0.75" />
<line x1="440.6" y1="80.09" x2="444.2" y2="80.09" stroke="#222" stroke-width="1.1" />
<line x1="440.6" y1="86.39" x2="444.2" y2="86.39" stroke="#222" stroke-width="1.1" />
<circle cx="409.4" cy="44.67" r="1.9" fill="#d31e3b"/>
<circle cx="425.9" cy="36.81" r="1.9" fill="#d31e3b"/>
<circle cx="442.4" cy="42.31" r="1.9" fill="#d31e3b"/>
<circle cx="458.9" cy="45.46" r="1.9" fill="#d31e3b"/>
<rect x="407.7" y="50.84" width="3.4" height="3.4" fill="#15528f"/>
<rect x="424.2" y="35.89" width="3.4" height="3.4" fill="#15528f"/>
<rect x="440.7" y="34.32" width="3.4" height="3.4" fill="#15528f"/>
<rect x="457.2" y="35.89" width="3.4" height="3.4" fill="#15528f"/>
<polygon points="409.4,69.49 407.6,72.73 411.2,72.73" fill="#3cb54a"/>
<polygon points="425.9,72.64 424.1,75.88 427.7,75.88" fill="#3cb54a"/>
<polygon points="442.4,81.29 440.6,84.53 444.2,84.53" fill="#3cb54a"/>
<polygon points="458.9,98.61 457.1,101.85 460.7,101.85" fill="#3cb54a"/>
<polygon points="409.1,56.3 409.59,57.37 410.76,57.51 409.9,58.31 410.13,59.47 409.1,58.89 408.07,59.47 408.3,58.31 407.44,57.51 408.61,57.37" fill="#1a1a1a" stroke="#1a1a1a" stroke-width="0.35" stroke-linejoin="round"/>
<polygon points="423.6,60.9 424.09,61.97 425.26,62.11 424.4,62.91 424.63,64.07 423.6,63.49 422.57,64.07 422.8,62.91 421.94,62.11 423.11,61.97" fill="#1a1a1a" stroke="#1a1a1a" stroke-width="0.35" stroke-linejoin="round"/>
<polygon points="428,60.9 428.49,61.97 429.66,62.11 428.8,62.91 429.03,64.07 428,63.49 426.97,64.07 427.2,62.91 426.34,62.11 427.51,61.97" fill="#1a1a1a" stroke="#1a1a1a" stroke-width="0.35" stroke-linejoin="round"/>
<polygon points="438.1,71.6 438.59,72.67 439.76,72.81 438.9,73.61 439.13,74.77 438.1,74.19 437.07,74.77 437.3,73.61 436.44,72.81 437.61,72.67" fill="#1a1a1a" stroke="#1a1a1a" stroke-width="0.35" stroke-linejoin="round"/>
<polygon points="442.5,71.6 442.99,72.67 444.16,72.81 443.3,73.61 443.53,74.77 442.5,74.19 441.47,74.77 441.7,73.61 440.84,72.81 442.01,72.67" fill="#1a1a1a" stroke="#1a1a1a" stroke-width="0.35" stroke-linejoin="round"/>
<polygon points="446.9,71.6 447.39,72.67 448.56,72.81 447.7,73.61 447.93,74.77 446.9,74.19 445.87,74.77 446.1,73.61 445.24,72.81 446.41,72.67" fill="#1a1a1a" stroke="#1a1a1a" stroke-width="0.35" stroke-linejoin="round"/>
<polygon points="453.1,86.7 453.59,87.77 454.76,87.91 453.9,88.71 454.13,89.87 453.1,89.29 452.07,89.87 452.3,88.71 451.44,87.91 452.61,87.77" fill="#1a1a1a" stroke="#1a1a1a" stroke-width="0.35" stroke-linejoin="round"/>
<polygon points="457.5,86.7 457.99,87.77 459.16,87.91 458.3,88.71 458.53,89.87 457.5,89.29 456.47,89.87 456.7,88.71 455.84,87.91 457.01,87.77" fill="#1a1a1a" stroke="#1a1a1a" stroke-width="0.35" stroke-linejoin="round"/>
<polygon points="461.9,86.7 462.39,87.77 463.56,87.91 462.7,88.71 462.93,89.87 461.9,89.29 460.87,89.87 461.1,88.71 460.24,87.91 461.41,87.77" fill="#1a1a1a" stroke="#1a1a1a" stroke-width="0.35" stroke-linejoin="round"/>
<line x1="467.5" y1="29.8" x2="476" y2="29.8" stroke="#d31e3b" stroke-width="1.5" />
<circle cx="471.8" cy="29.8" r="1.65" fill="#d31e3b"/>
<text x="478.8" y="32.1" font-size="8.4" fill="#222" textLength="25" lengthAdjust="spacingAndGlyphs" >Control</text>
<line x1="467.5" y1="40.9" x2="476" y2="40.9" stroke="#15528f" stroke-width="1.5" />
<rect x="470.15" y="39.25" width="3.3" height="3.3" fill="#15528f"/>
<text x="478.8" y="43.2" font-size="8.4" fill="#222" textLength="33" lengthAdjust="spacingAndGlyphs" >MCT4-KD</text>
<line x1="467.5" y1="52" x2="476" y2="52" stroke="#3cb54a" stroke-width="1.5" />
<polygon points="471.8,49.95 469.9,53.37 473.7,53.37" fill="#3cb54a"/>
<text x="478.8" y="54.3" font-size="8.4" fill="#222" textLength="33" lengthAdjust="spacingAndGlyphs" >MCT1-KD</text>
<text x="166.25" y="141.8" font-size="11.5" fill="#111" font-weight="bold" >C</text>
<line x1="196.5" y1="152.5" x2="196.5" y2="232.5" stroke="#333" stroke-width="1.3" />
<line x1="196" y1="232" x2="274.5" y2="232" stroke="#333" stroke-width="1.3" />
<line x1="193.5" y1="232" x2="196.5" y2="232" stroke="#2a2a2a" stroke-width="0.9" />
<text x="191.1" y="234.8" font-size="8.2" fill="#222" text-anchor="end" >0</text>
<line x1="193.5" y1="216.16" x2="196.5" y2="216.16" stroke="#2a2a2a" stroke-width="0.9" />
<text x="191.1" y="218.96" font-size="8.2" fill="#222" text-anchor="end" >20</text>
<line x1="193.5" y1="200.32" x2="196.5" y2="200.32" stroke="#2a2a2a" stroke-width="0.9" />
<text x="191.1" y="203.12" font-size="8.2" fill="#222" text-anchor="end" >40</text>
<line x1="193.5" y1="184.48" x2="196.5" y2="184.48" stroke="#2a2a2a" stroke-width="0.9" />
<text x="191.1" y="187.28" font-size="8.2" fill="#222" text-anchor="end" >60</text>
<line x1="193.5" y1="168.64" x2="196.5" y2="168.64" stroke="#2a2a2a" stroke-width="0.9" />
<text x="191.1" y="171.44" font-size="8.2" fill="#222" text-anchor="end" >80</text>
<line x1="193.5" y1="152.8" x2="196.5" y2="152.8" stroke="#2a2a2a" stroke-width="0.9" />
<text x="191.1" y="155.6" font-size="8.2" fill="#222" text-anchor="end" >100</text>
<text x="196.5" y="244.9" font-size="8.2" fill="#222" text-anchor="middle" >0</text>
<line x1="213" y1="232" x2="213" y2="234.5" stroke="#2a2a2a" stroke-width="0.9" />
<text x="213" y="244.9" font-size="8.2" fill="#222" text-anchor="middle" >4</text>
<line x1="229.5" y1="232" x2="229.5" y2="234.5" stroke="#2a2a2a" stroke-width="0.9" />
<text x="229.5" y="244.9" font-size="8.2" fill="#222" text-anchor="middle" >8</text>
<line x1="246" y1="232" x2="246" y2="234.5" stroke="#2a2a2a" stroke-width="0.9" />
<text x="246" y="244.9" font-size="8.2" fill="#222" text-anchor="middle" >12</text>
<line x1="262.5" y1="232" x2="262.5" y2="234.5" stroke="#2a2a2a" stroke-width="0.9" />
<text x="262.5" y="244.9" font-size="8.2" fill="#222" text-anchor="middle" >16</text>
<text x="234.4" y="255.2" font-size="9.2" fill="#222" stroke="#222" stroke-width="0.18" text-anchor="middle" textLength="39.5" lengthAdjust="spacingAndGlyphs" >Time (week)</text>
<text x="172.8" y="192.9" font-size="9.4" fill="#222" stroke="#222" stroke-width="0.18" text-anchor="middle" textLength="82" lengthAdjust="spacingAndGlyphs" transform="rotate(-90 172.8 192.9)" >% Donor WBC chimerism</text>
<polyline fill="none" stroke="#15528f" stroke-width="1.5" stroke-linejoin="round" points="213,162.3 229.5,161.51 246,160.72 262.5,160.72"/>
<polyline fill="none" stroke="#d31e3b" stroke-width="1.5" stroke-linejoin="round" points="213,178.14 229.5,166.26 246,160.72 262.5,160.72"/>
<line x1="213" y1="166.26" x2="213" y2="158.34" stroke="#333" stroke-width="0.75" />
<line x1="211.2" y1="158.34" x2="214.8" y2="158.34" stroke="#222" stroke-width="1.1" />
<line x1="211.2" y1="166.26" x2="214.8" y2="166.26" stroke="#222" stroke-width="1.1" />
<line x1="229.5" y1="163.49" x2="229.5" y2="159.53" stroke="#333" stroke-width="0.75" />
<line x1="227.7" y1="159.53" x2="231.3" y2="159.53" stroke="#222" stroke-width="1.1" />
<line x1="227.7" y1="163.49" x2="231.3" y2="163.49" stroke="#222" stroke-width="1.1" />
<line x1="246" y1="162.3" x2="246" y2="159.14" stroke="#333" stroke-width="0.75" />
<line x1="244.2" y1="159.14" x2="247.8" y2="159.14" stroke="#222" stroke-width="1.1" />
<line x1="244.2" y1="162.3" x2="247.8" y2="162.3" stroke="#222" stroke-width="1.1" />
<line x1="262.5" y1="161.51" x2="262.5" y2="159.93" stroke="#333" stroke-width="0.75" />
<line x1="260.7" y1="159.93" x2="264.3" y2="159.93" stroke="#222" stroke-width="1.1" />
<line x1="260.7" y1="161.51" x2="264.3" y2="161.51" stroke="#222" stroke-width="1.1" />
<line x1="213" y1="182.34" x2="213" y2="173.95" stroke="#333" stroke-width="0.75" />
<line x1="211.2" y1="173.95" x2="214.8" y2="173.95" stroke="#222" stroke-width="1.1" />
<line x1="211.2" y1="182.34" x2="214.8" y2="182.34" stroke="#222" stroke-width="1.1" />
<line x1="229.5" y1="168.64" x2="229.5" y2="163.89" stroke="#333" stroke-width="0.75" />
<line x1="227.7" y1="163.89" x2="231.3" y2="163.89" stroke="#222" stroke-width="1.1" />
<line x1="227.7" y1="168.64" x2="231.3" y2="168.64" stroke="#222" stroke-width="1.1" />
<line x1="246" y1="162.3" x2="246" y2="159.14" stroke="#333" stroke-width="0.75" />
<line x1="244.2" y1="159.14" x2="247.8" y2="159.14" stroke="#222" stroke-width="1.1" />
<line x1="244.2" y1="162.3" x2="247.8" y2="162.3" stroke="#222" stroke-width="1.1" />
<line x1="262.5" y1="161.51" x2="262.5" y2="159.93" stroke="#333" stroke-width="0.75" />
<line x1="260.7" y1="159.93" x2="264.3" y2="159.93" stroke="#222" stroke-width="1.1" />
<line x1="260.7" y1="161.51" x2="264.3" y2="161.51" stroke="#222" stroke-width="1.1" />
<rect x="211.3" y="160.6" width="3.4" height="3.4" fill="#15528f"/>
<rect x="227.8" y="159.81" width="3.4" height="3.4" fill="#15528f"/>
<rect x="244.3" y="159.02" width="3.4" height="3.4" fill="#15528f"/>
<rect x="260.8" y="159.02" width="3.4" height="3.4" fill="#15528f"/>
<circle cx="213" cy="178.14" r="1.9" fill="#d31e3b"/>
<circle cx="229.5" cy="166.26" r="1.9" fill="#d31e3b"/>
<circle cx="246" cy="160.72" r="1.9" fill="#d31e3b"/>
<circle cx="262.5" cy="160.72" r="1.9" fill="#d31e3b"/>
<polygon points="213,152.2 213.49,153.27 214.66,153.41 213.8,154.21 214.03,155.37 213,154.79 211.97,155.37 212.2,154.21 211.34,153.41 212.51,153.27" fill="#1a1a1a" stroke="#1a1a1a" stroke-width="0.35" stroke-linejoin="round"/>
<line x1="318" y1="153.3" x2="318" y2="232.9" stroke="#333" stroke-width="1.3" />
<line x1="317.5" y1="232.4" x2="396" y2="232.4" stroke="#333" stroke-width="1.3" />
<line x1="315" y1="232.4" x2="318" y2="232.4" stroke="#2a2a2a" stroke-width="0.9" />
<text x="312.6" y="235.2" font-size="8.2" fill="#222" text-anchor="end" >0</text>
<line x1="315" y1="216.64" x2="318" y2="216.64" stroke="#2a2a2a" stroke-width="0.9" />
<text x="312.6" y="219.44" font-size="8.2" fill="#222" text-anchor="end" >20</text>
<line x1="315" y1="200.88" x2="318" y2="200.88" stroke="#2a2a2a" stroke-width="0.9" />
<text x="312.6" y="203.68" font-size="8.2" fill="#222" text-anchor="end" >40</text>
<line x1="315" y1="185.12" x2="318" y2="185.12" stroke="#2a2a2a" stroke-width="0.9" />
<text x="312.6" y="187.92" font-size="8.2" fill="#222" text-anchor="end" >60</text>
<line x1="315" y1="169.36" x2="318" y2="169.36" stroke="#2a2a2a" stroke-width="0.9" />
<text x="312.6" y="172.16" font-size="8.2" fill="#222" text-anchor="end" >80</text>
<line x1="315" y1="153.6" x2="318" y2="153.6" stroke="#2a2a2a" stroke-width="0.9" />
<text x="312.6" y="156.4" font-size="8.2" fill="#222" text-anchor="end" >100</text>
<text x="318" y="245.3" font-size="8.2" fill="#222" text-anchor="middle" >0</text>
<line x1="334.5" y1="232.4" x2="334.5" y2="234.9" stroke="#2a2a2a" stroke-width="0.9" />
<text x="334.5" y="245.3" font-size="8.2" fill="#222" text-anchor="middle" >4</text>
<line x1="351" y1="232.4" x2="351" y2="234.9" stroke="#2a2a2a" stroke-width="0.9" />
<text x="351" y="245.3" font-size="8.2" fill="#222" text-anchor="middle" >8</text>
<line x1="367.5" y1="232.4" x2="367.5" y2="234.9" stroke="#2a2a2a" stroke-width="0.9" />
<text x="367.5" y="245.3" font-size="8.2" fill="#222" text-anchor="middle" >12</text>
<line x1="384" y1="232.4" x2="384" y2="234.9" stroke="#2a2a2a" stroke-width="0.9" />
<text x="384" y="245.3" font-size="8.2" fill="#222" text-anchor="middle" >16</text>
<text x="357.5" y="255.6" font-size="9.2" fill="#222" stroke="#222" stroke-width="0.18" text-anchor="middle" textLength="39.5" lengthAdjust="spacingAndGlyphs" >Time (week)</text>
<text x="287" y="193.5" font-size="9.4" fill="#222" stroke="#222" stroke-width="0.18" text-anchor="middle" textLength="72" lengthAdjust="spacingAndGlyphs" transform="rotate(-90 287 193.5)" >% Donor myeloid cell</text>
<text x="298.5" y="193.5" font-size="9.4" fill="#222" stroke="#222" stroke-width="0.18" text-anchor="middle" textLength="35" lengthAdjust="spacingAndGlyphs" transform="rotate(-90 298.5 193.5)" >chimerism</text>
<polyline fill="none" stroke="#15528f" stroke-width="1.5" stroke-linejoin="round" points="334.5,160.69 351,176.45 367.5,160.69 384,160.69"/>
<polyline fill="none" stroke="#d31e3b" stroke-width="1.5" stroke-linejoin="round" points="334.5,172.51 351,160.69 367.5,159.9 384,161.48"/>
<line x1="334.5" y1="162.27" x2="334.5" y2="159.12" stroke="#333" stroke-width="0.75" />
<line x1="332.7" y1="159.12" x2="336.3" y2="159.12" stroke="#222" stroke-width="1.1" />
<line x1="332.7" y1="162.27" x2="336.3" y2="162.27" stroke="#222" stroke-width="1.1" />
<line x1="351" y1="188.27" x2="351" y2="164.63" stroke="#333" stroke-width="0.75" />
<line x1="349.2" y1="164.63" x2="352.8" y2="164.63" stroke="#222" stroke-width="1.1" />
<line x1="349.2" y1="188.27" x2="352.8" y2="188.27" stroke="#222" stroke-width="1.1" />
<line x1="367.5" y1="162.27" x2="367.5" y2="159.12" stroke="#333" stroke-width="0.75" />
<line x1="365.7" y1="159.12" x2="369.3" y2="159.12" stroke="#222" stroke-width="1.1" />
<line x1="365.7" y1="162.27" x2="369.3" y2="162.27" stroke="#222" stroke-width="1.1" />
<line x1="384" y1="161.48" x2="384" y2="159.9" stroke="#333" stroke-width="0.75" />
<line x1="382.2" y1="159.9" x2="385.8" y2="159.9" stroke="#222" stroke-width="1.1" />
<line x1="382.2" y1="161.48" x2="385.8" y2="161.48" stroke="#222" stroke-width="1.1" />
<line x1="334.5" y1="182.76" x2="334.5" y2="162.27" stroke="#333" stroke-width="0.75" />
<line x1="332.7" y1="162.27" x2="336.3" y2="162.27" stroke="#222" stroke-width="1.1" />
<line x1="332.7" y1="182.76" x2="336.3" y2="182.76" stroke="#222" stroke-width="1.1" />
<line x1="351" y1="161.48" x2="351" y2="159.9" stroke="#333" stroke-width="0.75" />
<line x1="349.2" y1="159.9" x2="352.8" y2="159.9" stroke="#222" stroke-width="1.1" />
<line x1="349.2" y1="161.48" x2="352.8" y2="161.48" stroke="#222" stroke-width="1.1" />
<line x1="367.5" y1="162.27" x2="367.5" y2="157.54" stroke="#333" stroke-width="0.75" />
<line x1="365.7" y1="157.54" x2="369.3" y2="157.54" stroke="#222" stroke-width="1.1" />
<line x1="365.7" y1="162.27" x2="369.3" y2="162.27" stroke="#222" stroke-width="1.1" />
<line x1="384" y1="163.06" x2="384" y2="159.9" stroke="#333" stroke-width="0.75" />
<line x1="382.2" y1="159.9" x2="385.8" y2="159.9" stroke="#222" stroke-width="1.1" />
<line x1="382.2" y1="163.06" x2="385.8" y2="163.06" stroke="#222" stroke-width="1.1" />
<rect x="332.8" y="158.99" width="3.4" height="3.4" fill="#15528f"/>
<rect x="349.3" y="174.75" width="3.4" height="3.4" fill="#15528f"/>
<rect x="365.8" y="158.99" width="3.4" height="3.4" fill="#15528f"/>
<rect x="382.3" y="158.99" width="3.4" height="3.4" fill="#15528f"/>
<circle cx="334.5" cy="172.51" r="1.9" fill="#d31e3b"/>
<circle cx="351" cy="160.69" r="1.9" fill="#d31e3b"/>
<circle cx="367.5" cy="159.9" r="1.9" fill="#d31e3b"/>
<circle cx="384" cy="161.48" r="1.9" fill="#d31e3b"/>
<line x1="432.5" y1="152.5" x2="432.5" y2="232.5" stroke="#333" stroke-width="1.3" />
<line x1="432" y1="232" x2="511" y2="232" stroke="#333" stroke-width="1.3" />
<line x1="429.5" y1="232" x2="432.5" y2="232" stroke="#2a2a2a" stroke-width="0.9" />
<text x="427.1" y="234.8" font-size="8.2" fill="#222" text-anchor="end" >0</text>
<line x1="429.5" y1="216.16" x2="432.5" y2="216.16" stroke="#2a2a2a" stroke-width="0.9" />
<text x="427.1" y="218.96" font-size="8.2" fill="#222" text-anchor="end" >20</text>
<line x1="429.5" y1="200.32" x2="432.5" y2="200.32" stroke="#2a2a2a" stroke-width="0.9" />
<text x="427.1" y="203.12" font-size="8.2" fill="#222" text-anchor="end" >40</text>
<line x1="429.5" y1="184.48" x2="432.5" y2="184.48" stroke="#2a2a2a" stroke-width="0.9" />
<text x="427.1" y="187.28" font-size="8.2" fill="#222" text-anchor="end" >60</text>
<line x1="429.5" y1="168.64" x2="432.5" y2="168.64" stroke="#2a2a2a" stroke-width="0.9" />
<text x="427.1" y="171.44" font-size="8.2" fill="#222" text-anchor="end" >80</text>
<line x1="429.5" y1="152.8" x2="432.5" y2="152.8" stroke="#2a2a2a" stroke-width="0.9" />
<text x="427.1" y="155.6" font-size="8.2" fill="#222" text-anchor="end" >100</text>
<text x="432.5" y="244.9" font-size="8.2" fill="#222" text-anchor="middle" >0</text>
<line x1="449" y1="232" x2="449" y2="234.5" stroke="#2a2a2a" stroke-width="0.9" />
<text x="449" y="244.9" font-size="8.2" fill="#222" text-anchor="middle" >4</text>
<line x1="465.5" y1="232" x2="465.5" y2="234.5" stroke="#2a2a2a" stroke-width="0.9" />
<text x="465.5" y="244.9" font-size="8.2" fill="#222" text-anchor="middle" >8</text>
<line x1="482" y1="232" x2="482" y2="234.5" stroke="#2a2a2a" stroke-width="0.9" />
<text x="482" y="244.9" font-size="8.2" fill="#222" text-anchor="middle" >12</text>
<line x1="498.5" y1="232" x2="498.5" y2="234.5" stroke="#2a2a2a" stroke-width="0.9" />
<text x="498.5" y="244.9" font-size="8.2" fill="#222" text-anchor="middle" >16</text>
<text x="472" y="255.2" font-size="9.2" fill="#222" stroke="#222" stroke-width="0.18" text-anchor="middle" textLength="39.5" lengthAdjust="spacingAndGlyphs" >Time (week)</text>
<text x="410" y="192.9" font-size="9.4" fill="#222" stroke="#222" stroke-width="0.18" text-anchor="middle" textLength="82" lengthAdjust="spacingAndGlyphs" transform="rotate(-90 410 192.9)" >% Donor B cell chimerism</text>
<polyline fill="none" stroke="#15528f" stroke-width="1.5" stroke-linejoin="round" points="449,176.56 465.5,176.56 482,177.35 498.5,180.52"/>
<polyline fill="none" stroke="#d31e3b" stroke-width="1.5" stroke-linejoin="round" points="449,171.81 465.5,186.86 482,188.44 498.5,183.69"/>
<line x1="449" y1="178.14" x2="449" y2="174.98" stroke="#333" stroke-width="0.75" />
<line x1="447.2" y1="174.98" x2="450.8" y2="174.98" stroke="#222" stroke-width="1.1" />
<line x1="447.2" y1="178.14" x2="450.8" y2="178.14" stroke="#222" stroke-width="1.1" />
<line x1="465.5" y1="186.06" x2="465.5" y2="167.06" stroke="#333" stroke-width="0.75" />
<line x1="463.7" y1="167.06" x2="467.3" y2="167.06" stroke="#222" stroke-width="1.1" />
<line x1="463.7" y1="186.06" x2="467.3" y2="186.06" stroke="#222" stroke-width="1.1" />
<line x1="482" y1="183.69" x2="482" y2="171.02" stroke="#333" stroke-width="0.75" />
<line x1="480.2" y1="171.02" x2="483.8" y2="171.02" stroke="#222" stroke-width="1.1" />
<line x1="480.2" y1="183.69" x2="483.8" y2="183.69" stroke="#222" stroke-width="1.1" />
<line x1="498.5" y1="186.86" x2="498.5" y2="174.18" stroke="#333" stroke-width="0.75" />
<line x1="496.7" y1="174.18" x2="500.3" y2="174.18" stroke="#222" stroke-width="1.1" />
<line x1="496.7" y1="186.86" x2="500.3" y2="186.86" stroke="#222" stroke-width="1.1" />
<line x1="449" y1="178.94" x2="449" y2="164.68" stroke="#333" stroke-width="0.75" />
<line x1="447.2" y1="164.68" x2="450.8" y2="164.68" stroke="#222" stroke-width="1.1" />
<line x1="447.2" y1="178.94" x2="450.8" y2="178.94" stroke="#222" stroke-width="1.1" />
<line x1="465.5" y1="196.36" x2="465.5" y2="177.35" stroke="#333" stroke-width="0.75" />
<line x1="463.7" y1="177.35" x2="467.3" y2="177.35" stroke="#222" stroke-width="1.1" />
<line x1="463.7" y1="196.36" x2="467.3" y2="196.36" stroke="#222" stroke-width="1.1" />
<line x1="482" y1="193.98" x2="482" y2="182.9" stroke="#333" stroke-width="0.75" />
<line x1="480.2" y1="182.9" x2="483.8" y2="182.9" stroke="#222" stroke-width="1.1" />
<line x1="480.2" y1="193.98" x2="483.8" y2="193.98" stroke="#222" stroke-width="1.1" />
<line x1="498.5" y1="189.23" x2="498.5" y2="178.14" stroke="#333" stroke-width="0.75" />
<line x1="496.7" y1="178.14" x2="500.3" y2="178.14" stroke="#222" stroke-width="1.1" />
<line x1="496.7" y1="189.23" x2="500.3" y2="189.23" stroke="#222" stroke-width="1.1" />
<rect x="447.3" y="174.86" width="3.4" height="3.4" fill="#15528f"/>
<rect x="463.8" y="174.86" width="3.4" height="3.4" fill="#15528f"/>
<rect x="480.3" y="175.65" width="3.4" height="3.4" fill="#15528f"/>
<rect x="496.8" y="178.82" width="3.4" height="3.4" fill="#15528f"/>
<circle cx="449" cy="171.81" r="1.9" fill="#d31e3b"/>
<circle cx="465.5" cy="186.86" r="1.9" fill="#d31e3b"/>
<circle cx="482" cy="188.44" r="1.9" fill="#d31e3b"/>
<circle cx="498.5" cy="183.69" r="1.9" fill="#d31e3b"/>
<line x1="39.25" y1="290.2" x2="39.25" y2="370" stroke="#333" stroke-width="1.3" />
<line x1="38.75" y1="369.5" x2="117.5" y2="369.5" stroke="#333" stroke-width="1.3" />
<line x1="36.25" y1="369.5" x2="39.25" y2="369.5" stroke="#2a2a2a" stroke-width="0.9" />
<text x="33.85" y="372.3" font-size="8.2" fill="#222" text-anchor="end" >0</text>
<line x1="36.25" y1="353.7" x2="39.25" y2="353.7" stroke="#2a2a2a" stroke-width="0.9" />
<text x="33.85" y="356.5" font-size="8.2" fill="#222" text-anchor="end" >20</text>
<line x1="36.25" y1="337.9" x2="39.25" y2="337.9" stroke="#2a2a2a" stroke-width="0.9" />
<text x="33.85" y="340.7" font-size="8.2" fill="#222" text-anchor="end" >40</text>
<line x1="36.25" y1="322.1" x2="39.25" y2="322.1" stroke="#2a2a2a" stroke-width="0.9" />
<text x="33.85" y="324.9" font-size="8.2" fill="#222" text-anchor="end" >60</text>
<line x1="36.25" y1="306.3" x2="39.25" y2="306.3" stroke="#2a2a2a" stroke-width="0.9" />
<text x="33.85" y="309.1" font-size="8.2" fill="#222" text-anchor="end" >80</text>
<line x1="36.25" y1="290.5" x2="39.25" y2="290.5" stroke="#2a2a2a" stroke-width="0.9" />
<text x="33.85" y="293.3" font-size="8.2" fill="#222" text-anchor="end" >100</text>
<text x="39.25" y="382.4" font-size="8.2" fill="#222" text-anchor="middle" >0</text>
<line x1="55.75" y1="369.5" x2="55.75" y2="372" stroke="#2a2a2a" stroke-width="0.9" />
<text x="55.75" y="382.4" font-size="8.2" fill="#222" text-anchor="middle" >4</text>
<line x1="72.25" y1="369.5" x2="72.25" y2="372" stroke="#2a2a2a" stroke-width="0.9" />
<text x="72.25" y="382.4" font-size="8.2" fill="#222" text-anchor="middle" >8</text>
<line x1="88.75" y1="369.5" x2="88.75" y2="372" stroke="#2a2a2a" stroke-width="0.9" />
<text x="88.75" y="382.4" font-size="8.2" fill="#222" text-anchor="middle" >12</text>
<line x1="105.25" y1="369.5" x2="105.25" y2="372" stroke="#2a2a2a" stroke-width="0.9" />
<text x="105.25" y="382.4" font-size="8.2" fill="#222" text-anchor="middle" >16</text>
<text x="78.75" y="392.7" font-size="9.2" fill="#222" stroke="#222" stroke-width="0.18" text-anchor="middle" textLength="39.5" lengthAdjust="spacingAndGlyphs" >Time (week)</text>
<text x="15.5" y="330.5" font-size="9.4" fill="#222" stroke="#222" stroke-width="0.18" text-anchor="middle" textLength="82" lengthAdjust="spacingAndGlyphs" transform="rotate(-90 15.5 330.5)" >% Donor T cell chimerism</text>
<polyline fill="none" stroke="#15528f" stroke-width="1.5" stroke-linejoin="round" points="55.75,303.14 72.25,297.61 88.75,296.03 105.25,303.93"/>
<polyline fill="none" stroke="#d31e3b" stroke-width="1.5" stroke-linejoin="round" points="55.75,298.4 72.25,298.4 88.75,296.82 105.25,304.72"/>
<line x1="55.75" y1="308.67" x2="55.75" y2="297.61" stroke="#333" stroke-width="0.75" />
<line x1="53.95" y1="297.61" x2="57.55" y2="297.61" stroke="#222" stroke-width="1.1" />
<line x1="53.95" y1="308.67" x2="57.55" y2="308.67" stroke="#222" stroke-width="1.1" />
<line x1="72.25" y1="299.19" x2="72.25" y2="296.03" stroke="#333" stroke-width="0.75" />
<line x1="70.45" y1="296.03" x2="74.05" y2="296.03" stroke="#222" stroke-width="1.1" />
<line x1="70.45" y1="299.19" x2="74.05" y2="299.19" stroke="#222" stroke-width="1.1" />
<line x1="88.75" y1="298.4" x2="88.75" y2="293.66" stroke="#333" stroke-width="0.75" />
<line x1="86.95" y1="293.66" x2="90.55" y2="293.66" stroke="#222" stroke-width="1.1" />
<line x1="86.95" y1="298.4" x2="90.55" y2="298.4" stroke="#222" stroke-width="1.1" />
<line x1="105.25" y1="308.67" x2="105.25" y2="299.19" stroke="#333" stroke-width="0.75" />
<line x1="103.45" y1="299.19" x2="107.05" y2="299.19" stroke="#222" stroke-width="1.1" />
<line x1="103.45" y1="308.67" x2="107.05" y2="308.67" stroke="#222" stroke-width="1.1" />
<line x1="55.75" y1="299.98" x2="55.75" y2="296.82" stroke="#333" stroke-width="0.75" />
<line x1="53.95" y1="296.82" x2="57.55" y2="296.82" stroke="#222" stroke-width="1.1" />
<line x1="53.95" y1="299.98" x2="57.55" y2="299.98" stroke="#222" stroke-width="1.1" />
<line x1="72.25" y1="300.77" x2="72.25" y2="296.03" stroke="#333" stroke-width="0.75" />
<line x1="70.45" y1="296.03" x2="74.05" y2="296.03" stroke="#222" stroke-width="1.1" />
<line x1="70.45" y1="300.77" x2="74.05" y2="300.77" stroke="#222" stroke-width="1.1" />
<line x1="88.75" y1="298.4" x2="88.75" y2="295.24" stroke="#333" stroke-width="0.75" />
<line x1="86.95" y1="295.24" x2="90.55" y2="295.24" stroke="#222" stroke-width="1.1" />
<line x1="86.95" y1="298.4" x2="90.55" y2="298.4" stroke="#222" stroke-width="1.1" />
<line x1="105.25" y1="308.67" x2="105.25" y2="300.77" stroke="#333" stroke-width="0.75" />
<line x1="103.45" y1="300.77" x2="107.05" y2="300.77" stroke="#222" stroke-width="1.1" />
<line x1="103.45" y1="308.67" x2="107.05" y2="308.67" stroke="#222" stroke-width="1.1" />
<rect x="54.05" y="301.44" width="3.4" height="3.4" fill="#15528f"/>
<rect x="70.55" y="295.91" width="3.4" height="3.4" fill="#15528f"/>
<rect x="87.05" y="294.33" width="3.4" height="3.4" fill="#15528f"/>
<rect x="103.55" y="302.23" width="3.4" height="3.4" fill="#15528f"/>
<circle cx="55.75" cy="298.4" r="1.9" fill="#d31e3b"/>
<circle cx="72.25" cy="298.4" r="1.9" fill="#d31e3b"/>
<circle cx="88.75" cy="296.82" r="1.9" fill="#d31e3b"/>
<circle cx="105.25" cy="304.72" r="1.9" fill="#d31e3b"/>
<line x1="54.5" y1="285" x2="62.5" y2="285" stroke="#d31e3b" stroke-width="1.5" />
<circle cx="58.5" cy="285" r="1.65" fill="#d31e3b"/>
<text x="65" y="288" font-size="8.4" fill="#222" textLength="25" lengthAdjust="spacingAndGlyphs" >Control</text>
<line x1="97" y1="285" x2="105" y2="285" stroke="#15528f" stroke-width="1.5" />
<rect x="99.35" y="283.35" width="3.3" height="3.3" fill="#15528f"/>
<text x="107.5" y="288" font-size="8.4" fill="#222" textLength="33" lengthAdjust="spacingAndGlyphs" >MCT4-KD</text>
<text x="8.15" y="141.8" font-size="11.5" fill="#111" font-weight="bold" >B</text>
<line x1="39.4" y1="153.2" x2="39.4" y2="231.9" stroke="#333" stroke-width="1.3" />
<line x1="36.4" y1="231.4" x2="39.4" y2="231.4" stroke="#2a2a2a" stroke-width="0.9" />
<text x="32.6" y="234.2" font-size="8.2" fill="#222" text-anchor="end" >0</text>
<line x1="36.4" y1="198.5" x2="39.4" y2="198.5" stroke="#2a2a2a" stroke-width="0.9" />
<text x="32.6" y="201.3" font-size="8.2" fill="#222" text-anchor="end" >50</text>
<line x1="36.4" y1="165.6" x2="39.4" y2="165.6" stroke="#2a2a2a" stroke-width="0.9" />
<text x="32.6" y="168.4" font-size="8.2" fill="#222" text-anchor="end" >100</text>
<line x1="38.9" y1="231.4" x2="156.6" y2="231.4" stroke="#333" stroke-width="1.3" />
<line x1="54.3" y1="231.4" x2="54.3" y2="234" stroke="#2a2a2a" stroke-width="0.9" />
<line x1="83.5" y1="231.4" x2="83.5" y2="234" stroke="#2a2a2a" stroke-width="0.9" />
<line x1="112.6" y1="231.4" x2="112.6" y2="234" stroke="#2a2a2a" stroke-width="0.9" />
<line x1="142" y1="231.4" x2="142" y2="234" stroke="#2a2a2a" stroke-width="0.9" />
<text x="17" y="191.5" font-size="9.6" fill="#222" stroke="#222" stroke-width="0.18" text-anchor="middle" textLength="77.3" lengthAdjust="spacingAndGlyphs" transform="rotate(-90 17 191.5)" >% Donor cell chimerism</text>
<text x="53.6" y="243" font-size="8.5" fill="#222" text-anchor="middle" textLength="13.6" lengthAdjust="spacingAndGlyphs" >LKS</text>
<text x="83.2" y="243" font-size="8.5" fill="#222" text-anchor="middle" textLength="17.6" lengthAdjust="spacingAndGlyphs" >CMP</text>
<text x="112.7" y="243" font-size="8.5" fill="#222" text-anchor="middle" textLength="18.6" lengthAdjust="spacingAndGlyphs" >GMP</text>
<text x="141" y="243" font-size="8.5" fill="#222" text-anchor="middle" textLength="15.4" lengthAdjust="spacingAndGlyphs" >MEP</text>
<circle cx="41" cy="143.75" r="1.3" fill="#d31e3b"/>
<text x="44.8" y="146.8" font-size="8.4" fill="#222" textLength="25.3" lengthAdjust="spacingAndGlyphs" >Control</text>
<rect x="75.7" y="142.45" width="2.6" height="2.6" fill="#15528f"/>
<text x="80.8" y="146.8" font-size="8.4" fill="#222" textLength="33" lengthAdjust="spacingAndGlyphs" >MCT4-KD</text>
<polygon points="121.2,142.14 119.7,144.83 122.7,144.83" fill="#3cb54a"/>
<text x="125" y="146.8" font-size="8.4" fill="#222" textLength="33" lengthAdjust="spacingAndGlyphs" >MCT1-KD</text>
<circle cx="45.4" cy="168.69" r="1.45" fill="#d31e3b"/>
<circle cx="45.4" cy="175.01" r="1.45" fill="#d31e3b"/>
<circle cx="43.1" cy="176.39" r="1.45" fill="#d31e3b"/>
<circle cx="47.7" cy="178.17" r="1.45" fill="#d31e3b"/>
<circle cx="43.1" cy="179.22" r="1.45" fill="#d31e3b"/>
<circle cx="45.4" cy="181.79" r="1.45" fill="#d31e3b"/>
<circle cx="45.4" cy="185.6" r="1.45" fill="#d31e3b"/>
<circle cx="45.4" cy="188.7" r="1.45" fill="#d31e3b"/>
<circle cx="45.4" cy="192.18" r="1.45" fill="#d31e3b"/>
<line x1="40.9" y1="178.76" x2="49.9" y2="178.76" stroke="#d31e3b" stroke-width="0.8" />
<line x1="45.4" y1="181.39" x2="45.4" y2="176.13" stroke="#d31e3b" stroke-width="0.8" />
<line x1="42.9" y1="176.13" x2="47.9" y2="176.13" stroke="#d31e3b" stroke-width="0.8" />
<line x1="42.9" y1="181.39" x2="47.9" y2="181.39" stroke="#d31e3b" stroke-width="0.8" />
<rect x="52.85" y="172.44" width="2.9" height="2.9" fill="#15528f"/>
<rect x="52.85" y="176.72" width="2.9" height="2.9" fill="#15528f"/>
<rect x="50.55" y="177.57" width="2.9" height="2.9" fill="#15528f"/>
<rect x="52.85" y="181.32" width="2.9" height="2.9" fill="#15528f"/>
<rect x="50.55" y="182.84" width="2.9" height="2.9" fill="#15528f"/>
<rect x="55.15" y="184.15" width="2.9" height="2.9" fill="#15528f"/>
<rect x="50.55" y="185.34" width="2.9" height="2.9" fill="#15528f"/>
<rect x="52.85" y="191.72" width="2.9" height="2.9" fill="#15528f"/>
<rect x="50.55" y="193.23" width="2.9" height="2.9" fill="#15528f"/>
<line x1="49.8" y1="184.68" x2="58.8" y2="184.68" stroke="#15528f" stroke-width="0.8" />
<line x1="54.3" y1="186.99" x2="54.3" y2="182.38" stroke="#15528f" stroke-width="0.8" />
<line x1="51.8" y1="182.38" x2="56.8" y2="182.38" stroke="#15528f" stroke-width="0.8" />
<line x1="51.8" y1="186.99" x2="56.8" y2="186.99" stroke="#15528f" stroke-width="0.8" />
<polygon points="63.1,172.6 61.66,175.19 64.54,175.19" fill="#3cb54a"/>
<polygon points="63.1,177.87 61.66,180.45 64.54,180.45" fill="#3cb54a"/>
<polygon points="60.8,179.18 59.36,181.77 62.24,181.77" fill="#3cb54a"/>
<polygon points="65.4,181.16 63.96,183.74 66.84,183.74" fill="#3cb54a"/>
<polygon points="60.8,183.13 59.36,185.72 62.24,185.72" fill="#3cb54a"/>
<polygon points="65.4,185.1 63.96,187.69 66.84,187.69" fill="#3cb54a"/>
<polygon points="63.1,194.32 61.66,196.9 64.54,196.9" fill="#3cb54a"/>
<polygon points="60.8,194.97 59.36,197.56 62.24,197.56" fill="#3cb54a"/>
<line x1="58.6" y1="185.34" x2="67.6" y2="185.34" stroke="#3cb54a" stroke-width="0.8" />
<line x1="63.1" y1="187.97" x2="63.1" y2="182.71" stroke="#3cb54a" stroke-width="0.8" />
<line x1="60.6" y1="182.71" x2="65.6" y2="182.71" stroke="#3cb54a" stroke-width="0.8" />
<line x1="60.6" y1="187.97" x2="65.6" y2="187.97" stroke="#3cb54a" stroke-width="0.8" />
<circle cx="74.5" cy="168.89" r="1.45" fill="#d31e3b"/>
<circle cx="74.5" cy="171.52" r="1.45" fill="#d31e3b"/>
<circle cx="72.2" cy="172.84" r="1.45" fill="#d31e3b"/>
<circle cx="76.8" cy="173.5" r="1.45" fill="#d31e3b"/>
<circle cx="74.5" cy="174.15" r="1.45" fill="#d31e3b"/>
<circle cx="74.5" cy="174.81" r="1.45" fill="#d31e3b"/>
<circle cx="74.5" cy="182.05" r="1.45" fill="#d31e3b"/>
<circle cx="74.5" cy="186" r="1.45" fill="#d31e3b"/>
<line x1="70" y1="173.82" x2="79" y2="173.82" stroke="#d31e3b" stroke-width="0.8" />
<line x1="74.5" y1="175.8" x2="74.5" y2="171.85" stroke="#d31e3b" stroke-width="0.8" />
<line x1="72" y1="171.85" x2="77" y2="171.85" stroke="#d31e3b" stroke-width="0.8" />
<line x1="72" y1="175.8" x2="77" y2="175.8" stroke="#d31e3b" stroke-width="0.8" />
<rect x="82.05" y="165.47" width="2.9" height="2.9" fill="#15528f"/>
<rect x="79.75" y="167.44" width="2.9" height="2.9" fill="#15528f"/>
<rect x="84.35" y="168.76" width="2.9" height="2.9" fill="#15528f"/>
<rect x="79.75" y="170.73" width="2.9" height="2.9" fill="#15528f"/>
<rect x="84.35" y="172.7" width="2.9" height="2.9" fill="#15528f"/>
<rect x="79.75" y="174.02" width="2.9" height="2.9" fill="#15528f"/>
<rect x="84.35" y="175.99" width="2.9" height="2.9" fill="#15528f"/>
<rect x="79.75" y="177.97" width="2.9" height="2.9" fill="#15528f"/>
<rect x="82.05" y="181.26" width="2.9" height="2.9" fill="#15528f"/>
<line x1="79" y1="174.15" x2="88" y2="174.15" stroke="#15528f" stroke-width="0.8" />
<line x1="83.5" y1="175.8" x2="83.5" y2="172.51" stroke="#15528f" stroke-width="0.8" />
<line x1="81" y1="172.51" x2="86" y2="172.51" stroke="#15528f" stroke-width="0.8" />
<line x1="81" y1="175.8" x2="86" y2="175.8" stroke="#15528f" stroke-width="0.8" />
<polygon points="92.7,182.8 91.26,185.39 94.14,185.39" fill="#3cb54a"/>
<polygon points="92.7,191.03 91.26,193.61 94.14,193.61" fill="#3cb54a"/>
<polygon points="92.7,197.61 91.26,200.19 94.14,200.19" fill="#3cb54a"/>
<polygon points="92.7,202.21 91.26,204.8 94.14,204.8" fill="#3cb54a"/>
<polygon points="92.7,207.48 91.26,210.06 94.14,210.06" fill="#3cb54a"/>
<polygon points="92.7,210.77 91.26,213.35 94.14,213.35" fill="#3cb54a"/>
<polygon points="92.7,219.98 91.26,222.56 94.14,222.56" fill="#3cb54a"/>
<polygon points="90.4,219.98 88.96,222.56 91.84,222.56" fill="#3cb54a"/>
<polygon points="92.7,229.85 91.26,232.44 94.14,232.44" fill="#3cb54a"/>
<line x1="88.2" y1="208.37" x2="97.2" y2="208.37" stroke="#3cb54a" stroke-width="0.8" />
<line x1="92.7" y1="212.98" x2="92.7" y2="203.76" stroke="#3cb54a" stroke-width="0.8" />
<line x1="90.2" y1="203.76" x2="95.2" y2="203.76" stroke="#3cb54a" stroke-width="0.8" />
<line x1="90.2" y1="212.98" x2="95.2" y2="212.98" stroke="#3cb54a" stroke-width="0.8" />
<circle cx="103.9" cy="168.23" r="1.45" fill="#d31e3b"/>
<circle cx="101.6" cy="170.21" r="1.45" fill="#d31e3b"/>
<circle cx="103.9" cy="172.51" r="1.45" fill="#d31e3b"/>
<circle cx="103.9" cy="174.81" r="1.45" fill="#d31e3b"/>
<circle cx="101.6" cy="176.79" r="1.45" fill="#d31e3b"/>
<circle cx="106.2" cy="178.1" r="1.45" fill="#d31e3b"/>
<circle cx="103.9" cy="185.34" r="1.45" fill="#d31e3b"/>
<circle cx="103.9" cy="194.55" r="1.45" fill="#d31e3b"/>
<line x1="99.4" y1="178.1" x2="108.4" y2="178.1" stroke="#d31e3b" stroke-width="0.8" />
<line x1="103.9" y1="181.06" x2="103.9" y2="175.14" stroke="#d31e3b" stroke-width="0.8" />
<line x1="101.4" y1="175.14" x2="106.4" y2="175.14" stroke="#d31e3b" stroke-width="0.8" />
<line x1="101.4" y1="181.06" x2="106.4" y2="181.06" stroke="#d31e3b" stroke-width="0.8" />
<rect x="111.45" y="172.05" width="2.9" height="2.9" fill="#15528f"/>
<rect x="111.45" y="175.34" width="2.9" height="2.9" fill="#15528f"/>
<rect x="109.15" y="176.65" width="2.9" height="2.9" fill="#15528f"/>
<rect x="113.75" y="177.97" width="2.9" height="2.9" fill="#15528f"/>
<rect x="109.15" y="178.96" width="2.9" height="2.9" fill="#15528f"/>
<rect x="111.45" y="179.94" width="2.9" height="2.9" fill="#15528f"/>
<rect x="109.15" y="181.59" width="2.9" height="2.9" fill="#15528f"/>
<rect x="111.45" y="183.89" width="2.9" height="2.9" fill="#15528f"/>
<rect x="111.45" y="190.47" width="2.9" height="2.9" fill="#15528f"/>
<line x1="108.4" y1="180.08" x2="117.4" y2="180.08" stroke="#15528f" stroke-width="0.8" />
<line x1="112.9" y1="181.72" x2="112.9" y2="178.43" stroke="#15528f" stroke-width="0.8" />
<line x1="110.4" y1="178.43" x2="115.4" y2="178.43" stroke="#15528f" stroke-width="0.8" />
<line x1="110.4" y1="181.72" x2="115.4" y2="181.72" stroke="#15528f" stroke-width="0.8" />
<polygon points="121.6,189.05 120.16,191.64 123.04,191.64" fill="#3cb54a"/>
<polygon points="121.6,191.68 120.16,194.27 123.04,194.27" fill="#3cb54a"/>
<polygon points="121.6,194.32 120.16,196.9 123.04,196.9" fill="#3cb54a"/>
<polygon points="121.6,199.91 120.16,202.5 123.04,202.5" fill="#3cb54a"/>
<polygon points="121.6,203.53 120.16,206.12 123.04,206.12" fill="#3cb54a"/>
<polygon points="121.6,208.13 120.16,210.72 123.04,210.72" fill="#3cb54a"/>
<polygon points="121.6,212.08 120.16,214.67 123.04,214.67" fill="#3cb54a"/>
<polygon points="121.6,216.03 120.16,218.62 123.04,218.62" fill="#3cb54a"/>
<polygon points="121.6,218.66 120.16,221.25 123.04,221.25" fill="#3cb54a"/>
<polygon points="121.6,222.61 120.16,225.2 123.04,225.2" fill="#3cb54a"/>
<polygon points="121.6,229.85 120.16,232.44 123.04,232.44" fill="#3cb54a"/>
<line x1="117.1" y1="209.69" x2="126.1" y2="209.69" stroke="#3cb54a" stroke-width="0.8" />
<line x1="121.6" y1="213.63" x2="121.6" y2="205.74" stroke="#3cb54a" stroke-width="0.8" />
<line x1="119.1" y1="205.74" x2="124.1" y2="205.74" stroke="#3cb54a" stroke-width="0.8" />
<line x1="119.1" y1="213.63" x2="124.1" y2="213.63" stroke="#3cb54a" stroke-width="0.8" />
<circle cx="133.3" cy="171.19" r="1.45" fill="#d31e3b"/>
<circle cx="133.3" cy="176.13" r="1.45" fill="#d31e3b"/>
<circle cx="131" cy="178.1" r="1.45" fill="#d31e3b"/>
<circle cx="133.3" cy="181.39" r="1.45" fill="#d31e3b"/>
<circle cx="131" cy="183.37" r="1.45" fill="#d31e3b"/>
<circle cx="135.6" cy="184.68" r="1.45" fill="#d31e3b"/>
<circle cx="131" cy="186" r="1.45" fill="#d31e3b"/>
<circle cx="133.3" cy="193.56" r="1.45" fill="#d31e3b"/>
<line x1="128.8" y1="183.04" x2="137.8" y2="183.04" stroke="#d31e3b" stroke-width="0.8" />
<line x1="133.3" y1="185.67" x2="133.3" y2="180.41" stroke="#d31e3b" stroke-width="0.8" />
<line x1="130.8" y1="180.41" x2="135.8" y2="180.41" stroke="#d31e3b" stroke-width="0.8" />
<line x1="130.8" y1="185.67" x2="135.8" y2="185.67" stroke="#d31e3b" stroke-width="0.8" />
<rect x="140.75" y="172.05" width="2.9" height="2.9" fill="#15528f"/>
<rect x="140.75" y="178.96" width="2.9" height="2.9" fill="#15528f"/>
<rect x="138.45" y="179.94" width="2.9" height="2.9" fill="#15528f"/>
<rect x="143.05" y="181.59" width="2.9" height="2.9" fill="#15528f"/>
<rect x="138.45" y="183.23" width="2.9" height="2.9" fill="#15528f"/>
<rect x="143.05" y="183.89" width="2.9" height="2.9" fill="#15528f"/>
<rect x="140.75" y="192.12" width="2.9" height="2.9" fill="#15528f"/>
<rect x="138.45" y="192.77" width="2.9" height="2.9" fill="#15528f"/>
<line x1="137.7" y1="183.37" x2="146.7" y2="183.37" stroke="#15528f" stroke-width="0.8" />
<line x1="142.2" y1="186" x2="142.2" y2="180.73" stroke="#15528f" stroke-width="0.8" />
<line x1="139.7" y1="180.73" x2="144.7" y2="180.73" stroke="#15528f" stroke-width="0.8" />
<line x1="139.7" y1="186" x2="144.7" y2="186" stroke="#15528f" stroke-width="0.8" />
<polygon points="150.8,201.55 149.36,204.14 152.24,204.14" fill="#3cb54a"/>
<polygon points="150.8,208.13 149.36,210.72 152.24,210.72" fill="#3cb54a"/>
<polygon points="148.5,208.13 147.06,210.72 149.94,210.72" fill="#3cb54a"/>
<polygon points="150.8,212.08 149.36,214.67 152.24,214.67" fill="#3cb54a"/>
<polygon points="150.8,214.71 149.36,217.3 152.24,217.3" fill="#3cb54a"/>
<polygon points="148.5,216.69 147.06,219.28 149.94,219.28" fill="#3cb54a"/>
<polygon points="153.1,218.66 151.66,221.25 154.54,221.25" fill="#3cb54a"/>
<polygon points="150.8,221.62 149.36,224.21 152.24,224.21" fill="#3cb54a"/>
<polygon points="150.8,225.57 149.36,228.16 152.24,228.16" fill="#3cb54a"/>
<polygon points="150.8,229.85 149.36,232.44 152.24,232.44" fill="#3cb54a"/>
<line x1="146.3" y1="218.24" x2="155.3" y2="218.24" stroke="#3cb54a" stroke-width="0.8" />
<line x1="150.8" y1="221.2" x2="150.8" y2="215.28" stroke="#3cb54a" stroke-width="0.8" />
<line x1="148.3" y1="215.28" x2="153.3" y2="215.28" stroke="#3cb54a" stroke-width="0.8" />
<line x1="148.3" y1="221.2" x2="153.3" y2="221.2" stroke="#3cb54a" stroke-width="0.8" />
<polyline fill="none" stroke="#444" stroke-width="0.9" points="74.5,161.2 74.5,156.7 92.7,156.7 92.7,173.5"/>
<polygon points="81.2,152 81.69,153.07 82.86,153.21 82,154.01 82.23,155.17 81.2,154.59 80.17,155.17 80.4,154.01 79.54,153.21 80.71,153.07" fill="#1a1a1a" stroke="#1a1a1a" stroke-width="0.35" stroke-linejoin="round"/>
<polygon points="85.6,152 86.09,153.07 87.26,153.21 86.4,154.01 86.63,155.17 85.6,154.59 84.57,155.17 84.8,154.01 83.94,153.21 85.11,153.07" fill="#1a1a1a" stroke="#1a1a1a" stroke-width="0.35" stroke-linejoin="round"/>
<polyline fill="none" stroke="#444" stroke-width="0.9" points="103.9,161.8 103.9,157.1 121.6,157.1 121.6,180.7"/>
<polygon points="112.7,151.7 113.19,152.77 114.36,152.91 113.5,153.71 113.73,154.87 112.7,154.29 111.67,154.87 111.9,153.71 111.04,152.91 112.21,152.77" fill="#1a1a1a" stroke="#1a1a1a" stroke-width="0.35" stroke-linejoin="round"/>
<polygon points="117.1,151.7 117.59,152.77 118.76,152.91 117.9,153.71 118.13,154.87 117.1,154.29 116.07,154.87 116.3,153.71 115.44,152.91 116.61,152.77" fill="#1a1a1a" stroke="#1a1a1a" stroke-width="0.35" stroke-linejoin="round"/>
<polyline fill="none" stroke="#444" stroke-width="0.9" points="133.3,161.8 133.3,157.1 150.8,157.1 150.8,191.4"/>
<polygon points="141.2,151.7 141.69,152.77 142.86,152.91 142,153.71 142.23,154.87 141.2,154.29 140.17,154.87 140.4,153.71 139.54,152.91 140.71,152.77" fill="#1a1a1a" stroke="#1a1a1a" stroke-width="0.35" stroke-linejoin="round"/>
<polygon points="145.6,151.7 146.09,152.77 147.26,152.91 146.4,153.71 146.63,154.87 145.6,154.29 144.57,154.87 144.8,153.71 143.94,152.91 145.11,152.77" fill="#1a1a1a" stroke="#1a1a1a" stroke-width="0.35" stroke-linejoin="round"/>
<text x="163.65" y="267.4" font-size="11.5" fill="#111" font-weight="bold" >D</text>
<line x1="190.4" y1="290.7" x2="190.4" y2="369.8" stroke="#333" stroke-width="1.3" />
<line x1="187.4" y1="369.3" x2="190.4" y2="369.3" stroke="#2a2a2a" stroke-width="0.9" />
<text x="184.8" y="372.1" font-size="8.2" fill="#222" text-anchor="end" >40</text>
<line x1="187.4" y1="353.57" x2="190.4" y2="353.57" stroke="#2a2a2a" stroke-width="0.9" />
<text x="184.8" y="356.37" font-size="8.2" fill="#222" text-anchor="end" >50</text>
<line x1="187.4" y1="337.84" x2="190.4" y2="337.84" stroke="#2a2a2a" stroke-width="0.9" />
<text x="184.8" y="340.64" font-size="8.2" fill="#222" text-anchor="end" >60</text>
<line x1="187.4" y1="322.11" x2="190.4" y2="322.11" stroke="#2a2a2a" stroke-width="0.9" />
<text x="184.8" y="324.91" font-size="8.2" fill="#222" text-anchor="end" >70</text>
<line x1="187.4" y1="306.38" x2="190.4" y2="306.38" stroke="#2a2a2a" stroke-width="0.9" />
<text x="184.8" y="309.18" font-size="8.2" fill="#222" text-anchor="end" >80</text>
<line x1="187.4" y1="290.65" x2="190.4" y2="290.65" stroke="#2a2a2a" stroke-width="0.9" />
<text x="184.8" y="293.45" font-size="8.2" fill="#222" text-anchor="end" >90</text>
<line x1="189.9" y1="369.3" x2="308.3" y2="369.3" stroke="#333" stroke-width="1.3" />
<line x1="203.5" y1="369.3" x2="203.5" y2="371.9" stroke="#2a2a2a" stroke-width="0.9" />
<line x1="234.2" y1="369.3" x2="234.2" y2="371.9" stroke="#2a2a2a" stroke-width="0.9" />
<line x1="264.5" y1="369.3" x2="264.5" y2="371.9" stroke="#2a2a2a" stroke-width="0.9" />
<line x1="295.1" y1="369.3" x2="295.1" y2="371.9" stroke="#2a2a2a" stroke-width="0.9" />
<text x="171.4" y="330" font-size="9.6" fill="#222" stroke="#222" stroke-width="0.18" text-anchor="middle" textLength="78.6" lengthAdjust="spacingAndGlyphs" transform="rotate(-90 171.4 330)" >% Donor cell chimerism</text>
<text x="203.7" y="381.2" font-size="8.5" fill="#222" text-anchor="middle" textLength="13.6" lengthAdjust="spacingAndGlyphs" >LKS</text>
<text x="232.5" y="381.2" font-size="8.5" fill="#222" text-anchor="middle" textLength="17.6" lengthAdjust="spacingAndGlyphs" >CMP</text>
<text x="264.25" y="381.2" font-size="8.5" fill="#222" text-anchor="middle" textLength="18.6" lengthAdjust="spacingAndGlyphs" >GMP</text>
<text x="294.25" y="381.2" font-size="8.5" fill="#222" text-anchor="middle" textLength="15.4" lengthAdjust="spacingAndGlyphs" >MEP</text>
<circle cx="209.1" cy="286" r="1.3" fill="#d31e3b"/>
<text x="213.7" y="289" font-size="8.4" fill="#222" textLength="24" lengthAdjust="spacingAndGlyphs" >Control</text>
<rect x="242.6" y="284.7" width="2.6" height="2.6" fill="#15528f"/>
<text x="248.5" y="289" font-size="8.4" fill="#222" textLength="32.6" lengthAdjust="spacingAndGlyphs" >MCT4-KD</text>
<circle cx="197.7" cy="307.48" r="1.85" fill="#d31e3b"/>
<circle cx="195.2" cy="309.21" r="1.85" fill="#d31e3b"/>
<circle cx="200.2" cy="312.2" r="1.85" fill="#d31e3b"/>
<circle cx="195.2" cy="313.62" r="1.85" fill="#d31e3b"/>
<circle cx="200.2" cy="316.45" r="1.85" fill="#d31e3b"/>
<circle cx="195.2" cy="318.49" r="1.85" fill="#d31e3b"/>
<circle cx="197.7" cy="322.27" r="1.85" fill="#d31e3b"/>
<circle cx="197.7" cy="326.67" r="1.85" fill="#d31e3b"/>
<circle cx="197.7" cy="340.83" r="1.85" fill="#d31e3b"/>
<line x1="193.7" y1="318.96" x2="201.7" y2="318.96" stroke="#d31e3b" stroke-width="0.8" />
<line x1="197.7" y1="328.4" x2="197.7" y2="309.53" stroke="#d31e3b" stroke-width="0.8" />
<line x1="195.45" y1="309.53" x2="199.95" y2="309.53" stroke="#d31e3b" stroke-width="0.8" />
<line x1="195.45" y1="328.4" x2="199.95" y2="328.4" stroke="#d31e3b" stroke-width="0.8" />
<rect x="207.25" y="305.63" width="3.7" height="3.7" fill="#15528f"/>
<rect x="207.25" y="311.77" width="3.7" height="3.7" fill="#15528f"/>
<rect x="204.75" y="311.77" width="3.7" height="3.7" fill="#15528f"/>
<rect x="207.25" y="319.95" width="3.7" height="3.7" fill="#15528f"/>
<rect x="207.25" y="330.17" width="3.7" height="3.7" fill="#15528f"/>
<rect x="207.25" y="335.83" width="3.7" height="3.7" fill="#15528f"/>
<rect x="207.25" y="342.75" width="3.7" height="3.7" fill="#15528f"/>
<line x1="205.1" y1="324" x2="213.1" y2="324" stroke="#15528f" stroke-width="0.8" />
<line x1="209.1" y1="337.37" x2="209.1" y2="310.63" stroke="#15528f" stroke-width="0.8" />
<line x1="206.85" y1="310.63" x2="211.35" y2="310.63" stroke="#15528f" stroke-width="0.8" />
<line x1="206.85" y1="337.37" x2="211.35" y2="337.37" stroke="#15528f" stroke-width="0.8" />
<circle cx="228.1" cy="337.37" r="1.85" fill="#d31e3b"/>
<circle cx="225.6" cy="340.04" r="1.85" fill="#d31e3b"/>
<circle cx="230.6" cy="340.51" r="1.85" fill="#d31e3b"/>
<circle cx="228.1" cy="345.71" r="1.85" fill="#d31e3b"/>
<circle cx="225.6" cy="346.81" r="1.85" fill="#d31e3b"/>
<circle cx="228.1" cy="352.31" r="1.85" fill="#d31e3b"/>
<circle cx="228.1" cy="356.4" r="1.85" fill="#d31e3b"/>
<circle cx="225.6" cy="355.77" r="1.85" fill="#d31e3b"/>
<line x1="224.1" y1="346.49" x2="232.1" y2="346.49" stroke="#d31e3b" stroke-width="0.8" />
<line x1="228.1" y1="353.57" x2="228.1" y2="339.41" stroke="#d31e3b" stroke-width="0.8" />
<line x1="225.85" y1="339.41" x2="230.35" y2="339.41" stroke="#d31e3b" stroke-width="0.8" />
<line x1="225.85" y1="353.57" x2="230.35" y2="353.57" stroke="#d31e3b" stroke-width="0.8" />
<rect x="237.35" y="338.51" width="3.7" height="3.7" fill="#15528f"/>
<rect x="234.85" y="339.14" width="3.7" height="3.7" fill="#15528f"/>
<rect x="239.85" y="339.77" width="3.7" height="3.7" fill="#15528f"/>
<rect x="237.35" y="341.02" width="3.7" height="3.7" fill="#15528f"/>
<rect x="234.85" y="342.44" width="3.7" height="3.7" fill="#15528f"/>
<rect x="237.35" y="351.09" width="3.7" height="3.7" fill="#15528f"/>
<rect x="234.85" y="352.35" width="3.7" height="3.7" fill="#15528f"/>
<line x1="235.2" y1="345.23" x2="243.2" y2="345.23" stroke="#15528f" stroke-width="0.8" />
<line x1="239.2" y1="350.74" x2="239.2" y2="339.73" stroke="#15528f" stroke-width="0.8" />
<line x1="236.95" y1="339.73" x2="241.45" y2="339.73" stroke="#15528f" stroke-width="0.8" />
<line x1="236.95" y1="350.74" x2="241.45" y2="350.74" stroke="#15528f" stroke-width="0.8" />
<circle cx="258.5" cy="318.33" r="1.85" fill="#d31e3b"/>
<circle cx="258.5" cy="324.31" r="1.85" fill="#d31e3b"/>
<circle cx="256" cy="326.36" r="1.85" fill="#d31e3b"/>
<circle cx="261" cy="327.77" r="1.85" fill="#d31e3b"/>
<circle cx="258.5" cy="329.03" r="1.85" fill="#d31e3b"/>
<circle cx="256" cy="331.08" r="1.85" fill="#d31e3b"/>
<circle cx="258.5" cy="335.17" r="1.85" fill="#d31e3b"/>
<line x1="254.5" y1="327.62" x2="262.5" y2="327.62" stroke="#d31e3b" stroke-width="0.8" />
<line x1="258.5" y1="332.33" x2="258.5" y2="322.9" stroke="#d31e3b" stroke-width="0.8" />
<line x1="256.25" y1="322.9" x2="260.75" y2="322.9" stroke="#d31e3b" stroke-width="0.8" />
<line x1="256.25" y1="332.33" x2="260.75" y2="332.33" stroke="#d31e3b" stroke-width="0.8" />
<rect x="268.35" y="321.2" width="3.7" height="3.7" fill="#15528f"/>
<rect x="268.35" y="329.86" width="3.7" height="3.7" fill="#15528f"/>
<rect x="268.35" y="334.57" width="3.7" height="3.7" fill="#15528f"/>
<rect x="265.85" y="335.99" width="3.7" height="3.7" fill="#15528f"/>
<rect x="270.85" y="337.25" width="3.7" height="3.7" fill="#15528f"/>
<rect x="268.35" y="340.71" width="3.7" height="3.7" fill="#15528f"/>
<rect x="268.35" y="343.86" width="3.7" height="3.7" fill="#15528f"/>
<line x1="266.2" y1="336.42" x2="274.2" y2="336.42" stroke="#15528f" stroke-width="0.8" />
<line x1="270.2" y1="343.5" x2="270.2" y2="329.35" stroke="#15528f" stroke-width="0.8" />
<line x1="267.95" y1="329.35" x2="272.45" y2="329.35" stroke="#15528f" stroke-width="0.8" />
<line x1="267.95" y1="343.5" x2="272.45" y2="343.5" stroke="#15528f" stroke-width="0.8" />
<circle cx="289.1" cy="298.51" r="1.85" fill="#d31e3b"/>
<circle cx="289.1" cy="305.59" r="1.85" fill="#d31e3b"/>
<circle cx="289.1" cy="318.33" r="1.85" fill="#d31e3b"/>
<circle cx="286.5" cy="321.48" r="1.85" fill="#d31e3b"/>
<circle cx="289.1" cy="321.64" r="1.85" fill="#d31e3b"/>
<circle cx="291.7" cy="321.48" r="1.85" fill="#d31e3b"/>
<circle cx="289.1" cy="337.05" r="1.85" fill="#d31e3b"/>
<circle cx="289.1" cy="344.13" r="1.85" fill="#d31e3b"/>
<line x1="285.1" y1="321.32" x2="293.1" y2="321.32" stroke="#d31e3b" stroke-width="0.8" />
<line x1="289.1" y1="337.05" x2="289.1" y2="305.59" stroke="#d31e3b" stroke-width="0.8" />
<line x1="286.85" y1="305.59" x2="291.35" y2="305.59" stroke="#d31e3b" stroke-width="0.8" />
<line x1="286.85" y1="337.05" x2="291.35" y2="337.05" stroke="#d31e3b" stroke-width="0.8" />
<rect x="298.85" y="297.92" width="3.7" height="3.7" fill="#15528f"/>
<rect x="301.05" y="305.95" width="3.7" height="3.7" fill="#15528f"/>
<rect x="296.45" y="308.46" width="3.7" height="3.7" fill="#15528f"/>
<rect x="298.85" y="319.63" width="3.7" height="3.7" fill="#15528f"/>
<rect x="298.85" y="324.19" width="3.7" height="3.7" fill="#15528f"/>
<rect x="296.45" y="335.68" width="3.7" height="3.7" fill="#15528f"/>
<rect x="301.05" y="335.68" width="3.7" height="3.7" fill="#15528f"/>
<line x1="296.7" y1="320.07" x2="304.7" y2="320.07" stroke="#15528f" stroke-width="0.8" />
<line x1="300.7" y1="334.69" x2="300.7" y2="305.44" stroke="#15528f" stroke-width="0.8" />
<line x1="298.45" y1="305.44" x2="302.95" y2="305.44" stroke="#15528f" stroke-width="0.8" />
<line x1="298.45" y1="334.69" x2="302.95" y2="334.69" stroke="#15528f" stroke-width="0.8" />
<text x="317.65" y="267.4" font-size="11.5" fill="#111" font-weight="bold" >E</text>
<line x1="346.5" y1="273.1" x2="346.5" y2="370" stroke="#333" stroke-width="1.3" />
<line x1="343.5" y1="369.5" x2="346.5" y2="369.5" stroke="#2a2a2a" stroke-width="0.9" />
<text x="340.9" y="372.3" font-size="8.2" fill="#222" text-anchor="end" >6.9</text>
<line x1="343.5" y1="350.22" x2="346.5" y2="350.22" stroke="#2a2a2a" stroke-width="0.9" />
<text x="340.9" y="353.02" font-size="8.2" fill="#222" text-anchor="end" >7.0</text>
<line x1="343.5" y1="330.94" x2="346.5" y2="330.94" stroke="#2a2a2a" stroke-width="0.9" />
<text x="340.9" y="333.74" font-size="8.2" fill="#222" text-anchor="end" >7.1</text>
<line x1="343.5" y1="311.66" x2="346.5" y2="311.66" stroke="#2a2a2a" stroke-width="0.9" />
<text x="340.9" y="314.46" font-size="8.2" fill="#222" text-anchor="end" >7.2</text>
<line x1="343.5" y1="292.38" x2="346.5" y2="292.38" stroke="#2a2a2a" stroke-width="0.9" />
<text x="340.9" y="295.18" font-size="8.2" fill="#222" text-anchor="end" >7.3</text>
<line x1="343.5" y1="273.1" x2="346.5" y2="273.1" stroke="#2a2a2a" stroke-width="0.9" />
<text x="340.9" y="275.9" font-size="8.2" fill="#222" text-anchor="end" >7.4</text>
<line x1="346" y1="369.5" x2="410.5" y2="369.5" stroke="#333" stroke-width="1.3" />
<line x1="359.5" y1="369.5" x2="359.5" y2="372.1" stroke="#2a2a2a" stroke-width="0.9" />
<line x1="378.9" y1="369.5" x2="378.9" y2="372.1" stroke="#2a2a2a" stroke-width="0.9" />
<line x1="398" y1="369.5" x2="398" y2="372.1" stroke="#2a2a2a" stroke-width="0.9" />
<text x="324.5" y="321.2" font-size="9.6" fill="#222" stroke="#222" stroke-width="0.18" text-anchor="middle" textLength="11.2" lengthAdjust="spacingAndGlyphs" transform="rotate(-90 324.5 321.2)" >pHi</text>
<circle cx="359.5" cy="292.38" r="1.9" fill="#d31e3b"/>
<circle cx="354.9" cy="307.42" r="1.9" fill="#d31e3b"/>
<circle cx="364.4" cy="305.3" r="1.9" fill="#d31e3b"/>
<circle cx="359.5" cy="311.85" r="1.9" fill="#d31e3b"/>
<circle cx="359.5" cy="323.23" r="1.9" fill="#d31e3b"/>
<line x1="353" y1="308" x2="366" y2="308" stroke="#d31e3b" stroke-width="0.9" />
<line x1="359.5" y1="312.82" x2="359.5" y2="303.18" stroke="#d31e3b" stroke-width="0.9" />
<line x1="356.25" y1="303.18" x2="362.75" y2="303.18" stroke="#d31e3b" stroke-width="0.9" />
<line x1="356.25" y1="312.82" x2="362.75" y2="312.82" stroke="#d31e3b" stroke-width="0.9" />
<rect x="377" y="289.52" width="3.8" height="3.8" fill="#15528f"/>
<rect x="377" y="295.3" width="3.8" height="3.8" fill="#15528f"/>
<rect x="377" y="306.1" width="3.8" height="3.8" fill="#15528f"/>
<rect x="377" y="320.17" width="3.8" height="3.8" fill="#15528f"/>
<rect x="377" y="328.27" width="3.8" height="3.8" fill="#15528f"/>
<line x1="372.4" y1="309.15" x2="385.4" y2="309.15" stroke="#15528f" stroke-width="0.9" />
<line x1="378.9" y1="316.67" x2="378.9" y2="301.63" stroke="#15528f" stroke-width="0.9" />
<line x1="375.8" y1="301.63" x2="382" y2="301.63" stroke="#15528f" stroke-width="0.9" />
<line x1="375.8" y1="316.67" x2="382" y2="316.67" stroke="#15528f" stroke-width="0.9" />
<polygon points="398,336.81 395.76,340.84 400.24,340.84" fill="#3cb54a"/>
<polygon points="398,346.45 395.76,350.49 400.24,350.49" fill="#3cb54a"/>
<polygon points="398,350.69 395.76,354.73 400.24,354.73" fill="#3cb54a"/>
<polygon points="402.4,356.09 400.16,360.13 404.64,360.13" fill="#3cb54a"/>
<polygon points="393.6,359.94 391.36,363.98 395.84,363.98" fill="#3cb54a"/>
<line x1="391.5" y1="351.96" x2="404.5" y2="351.96" stroke="#3cb54a" stroke-width="0.8" />
<line x1="398" y1="356.2" x2="398" y2="347.71" stroke="#3cb54a" stroke-width="0.8" />
<line x1="395" y1="347.71" x2="401" y2="347.71" stroke="#3cb54a" stroke-width="0.8" />
<line x1="395" y1="356.2" x2="401" y2="356.2" stroke="#3cb54a" stroke-width="0.8" />
<polyline fill="none" stroke="#444" stroke-width="0.9" points="359.5,272.9 359.5,267.1 398.3,267.1 398.3,311"/>
<polygon points="379.2,261.9 379.69,262.97 380.86,263.11 380,263.91 380.23,265.07 379.2,264.49 378.17,265.07 378.4,263.91 377.54,263.11 378.71,262.97" fill="#1a1a1a" stroke="#1a1a1a" stroke-width="0.35" stroke-linejoin="round"/>
<polyline fill="none" stroke="#444" stroke-width="0.9" points="359.5,285.9 359.5,281.8 379,281.8 379,285.9"/>
<text x="369.4" y="278.2" font-size="9" fill="#222" text-anchor="middle" >ns</text>
<text x="361.2" y="378.1" font-size="8.1" fill="#222" text-anchor="end" transform="rotate(-45 361.2 378.1)" >Control</text>
<text x="380.6" y="378.1" font-size="8.1" fill="#222" text-anchor="end" transform="rotate(-45 380.6 378.1)" >MCT4-KD</text>
<text x="399.7" y="378.1" font-size="8.1" fill="#222" text-anchor="end" transform="rotate(-45 399.7 378.1)" >MCT1-KD</text>
<text x="417.35" y="267.4" font-size="11.5" fill="#111" font-weight="bold" >F</text>
<line x1="444.3" y1="273.6" x2="444.3" y2="370.8" stroke="#333" stroke-width="1.3" />
<line x1="441.3" y1="370.3" x2="444.3" y2="370.3" stroke="#2a2a2a" stroke-width="0.9" />
<text x="438.7" y="373.1" font-size="8.2" fill="#222" text-anchor="end" >15</text>
<line x1="441.3" y1="350.96" x2="444.3" y2="350.96" stroke="#2a2a2a" stroke-width="0.9" />
<text x="438.7" y="353.76" font-size="8.2" fill="#222" text-anchor="end" >20</text>
<line x1="441.3" y1="331.62" x2="444.3" y2="331.62" stroke="#2a2a2a" stroke-width="0.9" />
<text x="438.7" y="334.42" font-size="8.2" fill="#222" text-anchor="end" >25</text>
<line x1="441.3" y1="312.28" x2="444.3" y2="312.28" stroke="#2a2a2a" stroke-width="0.9" />
<text x="438.7" y="315.08" font-size="8.2" fill="#222" text-anchor="end" >30</text>
<line x1="441.3" y1="292.94" x2="444.3" y2="292.94" stroke="#2a2a2a" stroke-width="0.9" />
<text x="438.7" y="295.74" font-size="8.2" fill="#222" text-anchor="end" >35</text>
<line x1="441.3" y1="273.6" x2="444.3" y2="273.6" stroke="#2a2a2a" stroke-width="0.9" />
<text x="438.7" y="276.4" font-size="8.2" fill="#222" text-anchor="end" >40</text>
<line x1="443.8" y1="370.3" x2="509.4" y2="370.3" stroke="#333" stroke-width="1.3" />
<line x1="458.2" y1="370.3" x2="458.2" y2="372.9" stroke="#2a2a2a" stroke-width="0.9" />
<line x1="477.3" y1="370.3" x2="477.3" y2="372.9" stroke="#2a2a2a" stroke-width="0.9" />
<line x1="496.3" y1="370.3" x2="496.3" y2="372.9" stroke="#2a2a2a" stroke-width="0.9" />
<text x="423.8" y="321.8" font-size="9.6" fill="#222" stroke="#222" stroke-width="0.18" text-anchor="middle" textLength="71" lengthAdjust="spacingAndGlyphs" transform="rotate(-90 423.8 321.8)" >% BrdU incorporation</text>
<circle cx="458.2" cy="294.87" r="1.9" fill="#d31e3b"/>
<circle cx="458.2" cy="304.54" r="1.9" fill="#d31e3b"/>
<circle cx="458.2" cy="316.15" r="1.9" fill="#d31e3b"/>
<circle cx="458.2" cy="321.95" r="1.9" fill="#d31e3b"/>
<line x1="451.2" y1="309.57" x2="465.2" y2="309.57" stroke="#d31e3b" stroke-width="0.8" />
<line x1="458.2" y1="315.37" x2="458.2" y2="303.77" stroke="#d31e3b" stroke-width="0.8" />
<line x1="455.2" y1="303.77" x2="461.2" y2="303.77" stroke="#d31e3b" stroke-width="0.8" />
<line x1="455.2" y1="315.37" x2="461.2" y2="315.37" stroke="#d31e3b" stroke-width="0.8" />
<rect x="475.3" y="301.5" width="4" height="4" fill="#15528f"/>
<rect x="470.7" y="308.62" width="4" height="4" fill="#15528f"/>
<rect x="479.9" y="311.29" width="4" height="4" fill="#15528f"/>
<rect x="475.3" y="315.89" width="4" height="4" fill="#15528f"/>
<line x1="472.3" y1="311.31" x2="482.3" y2="311.31" stroke="#15528f" stroke-width="0.8" />
<line x1="477.3" y1="314.21" x2="477.3" y2="308.41" stroke="#15528f" stroke-width="0.8" />
<line x1="474.8" y1="308.41" x2="479.8" y2="308.41" stroke="#15528f" stroke-width="0.8" />
<line x1="474.8" y1="314.21" x2="479.8" y2="314.21" stroke="#15528f" stroke-width="0.8" />
<polygon points="496.3,328.29 494.29,331.91 498.31,331.91" fill="#3cb54a"/>
<polygon points="496.3,336.02 494.29,339.64 498.31,339.64" fill="#3cb54a"/>
<polygon points="496.3,342.98 494.29,346.61 498.31,346.61" fill="#3cb54a"/>
<polygon points="496.3,348.79 494.29,352.41 498.31,352.41" fill="#3cb54a"/>
<line x1="489.3" y1="340.9" x2="503.3" y2="340.9" stroke="#3cb54a" stroke-width="0.8" />
<line x1="496.3" y1="345.54" x2="496.3" y2="336.26" stroke="#3cb54a" stroke-width="0.8" />
<line x1="493.3" y1="336.26" x2="499.3" y2="336.26" stroke="#3cb54a" stroke-width="0.8" />
<line x1="493.3" y1="345.54" x2="499.3" y2="345.54" stroke="#3cb54a" stroke-width="0.8" />
<polyline fill="none" stroke="#444" stroke-width="0.9" points="458.2,273.5 458.2,268.1 496.3,268.1 496.3,311.7"/>
<polygon points="477.3,263.2 477.79,264.27 478.96,264.41 478.1,265.21 478.33,266.37 477.3,265.79 476.27,266.37 476.5,265.21 475.64,264.41 476.81,264.27" fill="#1a1a1a" stroke="#1a1a1a" stroke-width="0.35" stroke-linejoin="round"/>
<polyline fill="none" stroke="#444" stroke-width="0.9" points="458.2,286.7 458.2,282 477.3,282 477.3,286.7"/>
<text x="467.5" y="278.5" font-size="9" fill="#222" text-anchor="middle" >ns</text>
<text x="459.9" y="378.9" font-size="8.1" fill="#222" text-anchor="end" transform="rotate(-45 459.9 378.9)" >Control</text>
<text x="479" y="378.9" font-size="8.1" fill="#222" text-anchor="end" transform="rotate(-45 479 378.9)" >MCT4-KD</text>
<text x="498" y="378.9" font-size="8.1" fill="#222" text-anchor="end" transform="rotate(-45 498 378.9)" >MCT1-KD</text>
<text x="8.3" y="405.2" font-size="11.5" fill="#111" font-weight="bold" >G</text>
<line x1="39.25" y1="412" x2="39.25" y2="508.5" stroke="#333" stroke-width="1.3" />
<line x1="36.25" y1="508" x2="39.25" y2="508" stroke="#2a2a2a" stroke-width="0.9" />
<text x="33.65" y="510.8" font-size="8.2" fill="#222" text-anchor="end" >0</text>
<line x1="36.25" y1="484" x2="39.25" y2="484" stroke="#2a2a2a" stroke-width="0.9" />
<text x="33.65" y="486.8" font-size="8.2" fill="#222" text-anchor="end" >20</text>
<line x1="36.25" y1="460" x2="39.25" y2="460" stroke="#2a2a2a" stroke-width="0.9" />
<text x="33.65" y="462.8" font-size="8.2" fill="#222" text-anchor="end" >40</text>
<line x1="36.25" y1="436" x2="39.25" y2="436" stroke="#2a2a2a" stroke-width="0.9" />
<text x="33.65" y="438.8" font-size="8.2" fill="#222" text-anchor="end" >60</text>
<line x1="36.25" y1="412" x2="39.25" y2="412" stroke="#2a2a2a" stroke-width="0.9" />
<text x="33.65" y="414.8" font-size="8.2" fill="#222" text-anchor="end" >80</text>
<line x1="38.75" y1="508" x2="183.8" y2="508" stroke="#333" stroke-width="1.3" />
<line x1="75" y1="508" x2="75" y2="510.6" stroke="#2a2a2a" stroke-width="0.9" />
<line x1="145.4" y1="508" x2="145.4" y2="510.6" stroke="#2a2a2a" stroke-width="0.9" />
<text x="16.2" y="459.6" font-size="9.6" fill="#222" stroke="#222" stroke-width="0.18" text-anchor="middle" textLength="50.4" lengthAdjust="spacingAndGlyphs" transform="rotate(-90 16.2 459.6)" >CFU/1000 cells</text>
<text x="76.8" y="521.5" font-size="8.1" fill="#222" text-anchor="middle" textLength="31.6" lengthAdjust="spacingAndGlyphs" >CFU-GM</text>
<text x="147.5" y="521.5" font-size="8.1" fill="#222" text-anchor="middle" textLength="22.2" lengthAdjust="spacingAndGlyphs" >BFU-E</text>
<circle cx="51.4" cy="441.64" r="1.85" fill="#d31e3b"/>
<circle cx="47.2" cy="457.24" r="1.85" fill="#d31e3b"/>
<circle cx="56" cy="457.24" r="1.85" fill="#d31e3b"/>
<line x1="45.4" y1="451.84" x2="57.4" y2="451.84" stroke="#d31e3b" stroke-width="0.8" />
<line x1="51.4" y1="456.88" x2="51.4" y2="446.8" stroke="#d31e3b" stroke-width="0.8" />
<line x1="48.4" y1="446.8" x2="54.4" y2="446.8" stroke="#d31e3b" stroke-width="0.8" />
<line x1="48.4" y1="456.88" x2="54.4" y2="456.88" stroke="#d31e3b" stroke-width="0.8" />
<rect x="65.75" y="428.45" width="3.7" height="3.7" fill="#15528f"/>
<rect x="65.75" y="452.51" width="3.7" height="3.7" fill="#15528f"/>
<rect x="65.75" y="455.99" width="3.7" height="3.7" fill="#15528f"/>
<line x1="61.6" y1="447.76" x2="73.6" y2="447.76" stroke="#15528f" stroke-width="0.8" />
<line x1="67.6" y1="456.16" x2="67.6" y2="439.36" stroke="#15528f" stroke-width="0.8" />
<line x1="64.3" y1="439.36" x2="70.9" y2="439.36" stroke="#15528f" stroke-width="0.8" />
<line x1="64.3" y1="456.16" x2="70.9" y2="456.16" stroke="#15528f" stroke-width="0.8" />
<circle cx="83.5" cy="462.4" r="1.8" fill="none" stroke="#d31e3b" stroke-width="0.8"/>
<circle cx="83.5" cy="478" r="1.8" fill="none" stroke="#d31e3b" stroke-width="0.8"/>
<circle cx="83.5" cy="483.52" r="1.8" fill="none" stroke="#d31e3b" stroke-width="0.8"/>
<line x1="77.5" y1="474.4" x2="89.5" y2="474.4" stroke="#d31e3b" stroke-width="0.9" />
<line x1="83.5" y1="480.4" x2="83.5" y2="468.4" stroke="#d31e3b" stroke-width="0.9" />
<line x1="80" y1="468.4" x2="87" y2="468.4" stroke="#d31e3b" stroke-width="0.9" />
<line x1="80" y1="480.4" x2="87" y2="480.4" stroke="#d31e3b" stroke-width="0.9" />
<rect x="98.45" y="460.65" width="3.5" height="3.5" fill="none" stroke="#15528f" stroke-width="0.8"/>
<rect x="93.45" y="472.65" width="3.5" height="3.5" fill="none" stroke="#15528f" stroke-width="0.8"/>
<rect x="103.15" y="470.61" width="3.5" height="3.5" fill="none" stroke="#15528f" stroke-width="0.8"/>
<line x1="93.45" y1="471.04" x2="106.95" y2="471.04" stroke="#15528f" stroke-width="0.9" />
<line x1="100.2" y1="474.16" x2="100.2" y2="467.92" stroke="#15528f" stroke-width="0.9" />
<line x1="97.2" y1="467.92" x2="103.2" y2="467.92" stroke="#15528f" stroke-width="0.9" />
<line x1="97.2" y1="474.16" x2="103.2" y2="474.16" stroke="#15528f" stroke-width="0.9" />
<circle cx="118.4" cy="472" r="1.85" fill="#d31e3b"/>
<circle cx="127.1" cy="472" r="1.85" fill="#d31e3b"/>
<circle cx="122.5" cy="485.92" r="1.85" fill="#d31e3b"/>
<line x1="116.5" y1="477.04" x2="128.5" y2="477.04" stroke="#d31e3b" stroke-width="0.8" />
<line x1="122.5" y1="482.08" x2="122.5" y2="472" stroke="#d31e3b" stroke-width="0.8" />
<line x1="119.5" y1="472" x2="125.5" y2="472" stroke="#d31e3b" stroke-width="0.8" />
<line x1="119.5" y1="482.08" x2="125.5" y2="482.08" stroke="#d31e3b" stroke-width="0.8" />
<rect x="137.35" y="473.75" width="3.7" height="3.7" fill="#15528f"/>
<rect x="137.35" y="476.51" width="3.7" height="3.7" fill="#15528f"/>
<rect x="137.35" y="481.67" width="3.7" height="3.7" fill="#15528f"/>
<rect x="137.35" y="485.27" width="3.7" height="3.7" fill="#15528f"/>
<line x1="133.7" y1="480.4" x2="144.7" y2="480.4" stroke="#15528f" stroke-width="0.8" />
<line x1="139.2" y1="483.4" x2="139.2" y2="477.4" stroke="#15528f" stroke-width="0.8" />
<line x1="136.2" y1="477.4" x2="142.2" y2="477.4" stroke="#15528f" stroke-width="0.8" />
<line x1="136.2" y1="483.4" x2="142.2" y2="483.4" stroke="#15528f" stroke-width="0.8" />
<circle cx="155.4" cy="495.16" r="1.8" fill="none" stroke="#d31e3b" stroke-width="0.8"/>
<circle cx="150.8" cy="500.8" r="1.8" fill="none" stroke="#d31e3b" stroke-width="0.8"/>
<circle cx="159.7" cy="500.8" r="1.8" fill="none" stroke="#d31e3b" stroke-width="0.8"/>
<line x1="152.4" y1="498.76" x2="158.4" y2="498.76" stroke="#d31e3b" stroke-width="0.9" />
<line x1="155.4" y1="500.32" x2="155.4" y2="497.2" stroke="#d31e3b" stroke-width="0.9" />
<line x1="153.4" y1="497.2" x2="157.4" y2="497.2" stroke="#d31e3b" stroke-width="0.9" />
<line x1="153.4" y1="500.32" x2="157.4" y2="500.32" stroke="#d31e3b" stroke-width="0.9" />
<rect x="165.65" y="495.57" width="3.5" height="3.5" fill="none" stroke="#15528f" stroke-width="0.8"/>
<rect x="165.65" y="501.69" width="3.5" height="3.5" fill="none" stroke="#15528f" stroke-width="0.8"/>
<rect x="170.65" y="498.69" width="3.5" height="3.5" fill="none" stroke="#15528f" stroke-width="0.8"/>
<rect x="175.15" y="498.69" width="3.5" height="3.5" fill="none" stroke="#15528f" stroke-width="0.8"/>
<line x1="166" y1="500.44" x2="179" y2="500.44" stroke="#15528f" stroke-width="0.9" />
<polyline fill="none" stroke="#444" stroke-width="0.9" points="51.4,428.5 51.4,420.9 67.6,420.9 67.6,423.2"/>
<text x="61.5" y="417.7" font-size="9" fill="#222" text-anchor="middle" >ns</text>
<polyline fill="none" stroke="#444" stroke-width="0.9" points="82.7,454.2 82.7,449.5 100.2,449.5 100.2,454.2"/>
<text x="92.6" y="448.1" font-size="9" fill="#222" text-anchor="middle" >ns</text>
<polyline fill="none" stroke="#444" stroke-width="0.9" points="122.5,462.3 122.5,458.6 139.2,458.6 139.2,462.3"/>
<text x="130.9" y="455.6" font-size="9" fill="#222" text-anchor="middle" >ns</text>
<polyline fill="none" stroke="#444" stroke-width="0.9" points="155.1,485.4 155.1,481.7 171.9,481.7 171.9,486.3"/>
<text x="164.8" y="477.8" font-size="9" fill="#222" text-anchor="middle" >ns</text>
<circle cx="124.25" cy="406.25" r="2" fill="#d31e3b"/>
<text x="129.5" y="409.25" font-size="8.6" fill="#222" textLength="24.2" lengthAdjust="spacingAndGlyphs" >Control</text>
<rect x="122.25" y="413.75" width="4" height="4" fill="#15528f"/>
<text x="129.5" y="418.75" font-size="8.6" fill="#222" textLength="32.5" lengthAdjust="spacingAndGlyphs" >MCT4-KD</text>
<circle cx="124.25" cy="426.75" r="2" fill="none" stroke="#d31e3b" stroke-width="0.8"/>
<text x="129.5" y="429.75" font-size="8.6" fill="#222" textLength="24.2" lengthAdjust="spacingAndGlyphs" >Control</text>
<rect x="122.25" y="435" width="4" height="4" fill="none" stroke="#15528f" stroke-width="0.8"/>
<text x="129.5" y="440" font-size="8.6" fill="#222" textLength="32.5" lengthAdjust="spacingAndGlyphs" >MCT4-KD</text>
<line x1="168.75" y1="400.5" x2="168.75" y2="419.5" stroke="#444" stroke-width="1.2" />
<line x1="168.75" y1="424.5" x2="168.75" y2="442.5" stroke="#444" stroke-width="1.2" />
<text x="171.25" y="411.7" font-size="8.6" fill="#222" textLength="24.5" lengthAdjust="spacingAndGlyphs" >Primary</text>
<text x="171.25" y="436" font-size="8.6" fill="#222" textLength="34.2" lengthAdjust="spacingAndGlyphs" >Secondary</text>
<text x="227.35" y="405.2" font-size="11.5" fill="#111" font-weight="bold" >H</text>
<line x1="254.25" y1="413" x2="254.25" y2="509.75" stroke="#333" stroke-width="1.3" />
<line x1="251.25" y1="509.25" x2="254.25" y2="509.25" stroke="#2a2a2a" stroke-width="0.9" />
<text x="248.65" y="512.05" font-size="8.2" fill="#222" text-anchor="end" >0</text>
<line x1="251.25" y1="477.17" x2="254.25" y2="477.17" stroke="#2a2a2a" stroke-width="0.9" />
<text x="248.65" y="479.97" font-size="8.2" fill="#222" text-anchor="end" >5</text>
<line x1="251.25" y1="445.08" x2="254.25" y2="445.08" stroke="#2a2a2a" stroke-width="0.9" />
<text x="248.65" y="447.88" font-size="8.2" fill="#222" text-anchor="end" >10</text>
<line x1="251.25" y1="413" x2="254.25" y2="413" stroke="#2a2a2a" stroke-width="0.9" />
<text x="248.65" y="415.8" font-size="8.2" fill="#222" text-anchor="end" >15</text>
<line x1="253.75" y1="509.25" x2="318" y2="509.25" stroke="#333" stroke-width="1.3" />
<line x1="267" y1="509.25" x2="267" y2="511.85" stroke="#2a2a2a" stroke-width="0.9" />
<line x1="286.25" y1="509.25" x2="286.25" y2="511.85" stroke="#2a2a2a" stroke-width="0.9" />
<line x1="305.5" y1="509.25" x2="305.5" y2="511.85" stroke="#2a2a2a" stroke-width="0.9" />
<text x="234.3" y="461.1" font-size="9.6" fill="#222" stroke="#222" stroke-width="0.18" text-anchor="middle" textLength="84.5" lengthAdjust="spacingAndGlyphs" transform="rotate(-90 234.3 461.1)" >Glucose uptake (arbitary)</text>
<circle cx="267" cy="430.32" r="1.9" fill="#d31e3b"/>
<circle cx="263" cy="443.8" r="1.9" fill="#d31e3b"/>
<circle cx="271" cy="446.36" r="1.9" fill="#d31e3b"/>
<circle cx="267" cy="460.48" r="1.9" fill="#d31e3b"/>
<line x1="261" y1="445.08" x2="273" y2="445.08" stroke="#d31e3b" stroke-width="0.8" />
<line x1="267" y1="451.5" x2="267" y2="438.66" stroke="#d31e3b" stroke-width="0.8" />
<line x1="264" y1="438.66" x2="270" y2="438.66" stroke="#d31e3b" stroke-width="0.8" />
<line x1="264" y1="451.5" x2="270" y2="451.5" stroke="#d31e3b" stroke-width="0.8" />
<rect x="284.35" y="420.72" width="3.8" height="3.8" fill="#15528f"/>
<rect x="284.35" y="435.48" width="3.8" height="3.8" fill="#15528f"/>
<rect x="284.35" y="449.6" width="3.8" height="3.8" fill="#15528f"/>
<rect x="284.35" y="462.43" width="3.8" height="3.8" fill="#15528f"/>
<line x1="279.75" y1="443.8" x2="292.75" y2="443.8" stroke="#15528f" stroke-width="0.8" />
<line x1="286.25" y1="452.14" x2="286.25" y2="435.45" stroke="#15528f" stroke-width="0.8" />
<line x1="283.25" y1="435.45" x2="289.25" y2="435.45" stroke="#15528f" stroke-width="0.8" />
<line x1="283.25" y1="452.14" x2="289.25" y2="452.14" stroke="#15528f" stroke-width="0.8" />
<polygon points="301.5,466.01 299.49,469.63 303.51,469.63" fill="#3cb54a"/>
<polygon points="309.5,462.16 307.49,465.78 311.51,465.78" fill="#3cb54a"/>
<polygon points="305.5,467.29 303.49,470.91 307.51,470.91" fill="#3cb54a"/>
<polygon points="305.5,474.35 303.49,477.97 307.51,477.97" fill="#3cb54a"/>
<line x1="300" y1="470.11" x2="311" y2="470.11" stroke="#3cb54a" stroke-width="0.8" />
<line x1="305.5" y1="472.99" x2="305.5" y2="467.22" stroke="#3cb54a" stroke-width="0.8" />
<line x1="302.5" y1="467.22" x2="308.5" y2="467.22" stroke="#3cb54a" stroke-width="0.8" />
<line x1="302.5" y1="472.99" x2="308.5" y2="472.99" stroke="#3cb54a" stroke-width="0.8" />
<polyline fill="none" stroke="#444" stroke-width="0.9" points="265,408.2 265,403.5 305.5,403.5 305.5,447.5"/>
<polygon points="286.25,398.1 286.74,399.17 287.91,399.31 287.05,400.11 287.28,401.27 286.25,400.69 285.22,401.27 285.45,400.11 284.59,399.31 285.76,399.17" fill="#1a1a1a" stroke="#1a1a1a" stroke-width="0.35" stroke-linejoin="round"/>
<polyline fill="none" stroke="#444" stroke-width="0.9" points="265,418.9 265,415.2 286.5,415.2 286.5,418.9"/>
<text x="276.4" y="413.5" font-size="9" fill="#222" text-anchor="middle" >ns</text>
<text x="268.7" y="518.1" font-size="8.1" fill="#222" text-anchor="end" transform="rotate(-45 268.7 518.1)" >Control</text>
<text x="287.95" y="518.1" font-size="8.1" fill="#222" text-anchor="end" transform="rotate(-45 287.95 518.1)" >MCT4-KD</text>
<text x="307.2" y="518.1" font-size="8.1" fill="#222" text-anchor="end" transform="rotate(-45 307.2 518.1)" >MCT1-KD</text>
<text x="8.4" y="545.8" font-size="11.5" fill="#111" font-weight="bold" >I</text>
<line x1="49.4" y1="555.75" x2="49.4" y2="653.1" stroke="#333" stroke-width="1.3" />
<line x1="46.4" y1="652.6" x2="49.4" y2="652.6" stroke="#2a2a2a" stroke-width="0.9" />
<text x="43.8" y="655.4" font-size="8.2" fill="#222" text-anchor="end" >0.0</text>
<line x1="46.4" y1="633.23" x2="49.4" y2="633.23" stroke="#2a2a2a" stroke-width="0.9" />
<text x="43.8" y="636.03" font-size="8.2" fill="#222" text-anchor="end" >0.5</text>
<line x1="46.4" y1="613.86" x2="49.4" y2="613.86" stroke="#2a2a2a" stroke-width="0.9" />
<text x="43.8" y="616.66" font-size="8.2" fill="#222" text-anchor="end" >1.0</text>
<line x1="46.4" y1="594.49" x2="49.4" y2="594.49" stroke="#2a2a2a" stroke-width="0.9" />
<text x="43.8" y="597.29" font-size="8.2" fill="#222" text-anchor="end" >1.5</text>
<line x1="46.4" y1="575.12" x2="49.4" y2="575.12" stroke="#2a2a2a" stroke-width="0.9" />
<text x="43.8" y="577.92" font-size="8.2" fill="#222" text-anchor="end" >2.0</text>
<line x1="46.4" y1="555.75" x2="49.4" y2="555.75" stroke="#2a2a2a" stroke-width="0.9" />
<text x="43.8" y="558.55" font-size="8.2" fill="#222" text-anchor="end" >2.5</text>
<line x1="48.9" y1="652.6" x2="291.25" y2="652.6" stroke="#333" stroke-width="1.3" />
<line x1="57.9" y1="652.6" x2="57.9" y2="655.2" stroke="#2a2a2a" stroke-width="0.9" />
<line x1="73.9" y1="652.6" x2="73.9" y2="655.2" stroke="#2a2a2a" stroke-width="0.9" />
<line x1="89.9" y1="652.6" x2="89.9" y2="655.2" stroke="#2a2a2a" stroke-width="0.9" />
<line x1="105.9" y1="652.6" x2="105.9" y2="655.2" stroke="#2a2a2a" stroke-width="0.9" />
<line x1="121.9" y1="652.6" x2="121.9" y2="655.2" stroke="#2a2a2a" stroke-width="0.9" />
<line x1="137.9" y1="652.6" x2="137.9" y2="655.2" stroke="#2a2a2a" stroke-width="0.9" />
<line x1="153.9" y1="652.6" x2="153.9" y2="655.2" stroke="#2a2a2a" stroke-width="0.9" />
<line x1="169.9" y1="652.6" x2="169.9" y2="655.2" stroke="#2a2a2a" stroke-width="0.9" />
<line x1="185.9" y1="652.6" x2="185.9" y2="655.2" stroke="#2a2a2a" stroke-width="0.9" />
<line x1="201.9" y1="652.6" x2="201.9" y2="655.2" stroke="#2a2a2a" stroke-width="0.9" />
<line x1="217.9" y1="652.6" x2="217.9" y2="655.2" stroke="#2a2a2a" stroke-width="0.9" />
<line x1="233.9" y1="652.6" x2="233.9" y2="655.2" stroke="#2a2a2a" stroke-width="0.9" />
<line x1="249.9" y1="652.6" x2="249.9" y2="655.2" stroke="#2a2a2a" stroke-width="0.9" />
<line x1="265.9" y1="652.6" x2="265.9" y2="655.2" stroke="#2a2a2a" stroke-width="0.9" />
<line x1="281.9" y1="652.6" x2="281.9" y2="655.2" stroke="#2a2a2a" stroke-width="0.9" />
<rect x="52.8" y="614.63" width="4" height="37.97" fill="#d31e3b"/>
<line x1="54.8" y1="614.63" x2="54.8" y2="604.95" stroke="#222" stroke-width="0.8" />
<line x1="53.5" y1="604.95" x2="56.1" y2="604.95" stroke="#222" stroke-width="0.9" />
<rect x="59.6" y="621.61" width="4" height="30.99" fill="#15528f"/>
<line x1="61.6" y1="621.61" x2="61.6" y2="614.63" stroke="#222" stroke-width="0.8" />
<line x1="60.3" y1="614.63" x2="62.9" y2="614.63" stroke="#222" stroke-width="0.9" />
<rect x="68.8" y="614.63" width="4" height="37.97" fill="#d31e3b"/>
<line x1="70.8" y1="614.63" x2="70.8" y2="612.7" stroke="#222" stroke-width="0.8" />
<line x1="69.5" y1="612.7" x2="72.1" y2="612.7" stroke="#222" stroke-width="0.9" />
<rect x="75.6" y="606.89" width="4" height="45.71" fill="#15528f"/>
<line x1="77.6" y1="606.89" x2="77.6" y2="604.95" stroke="#222" stroke-width="0.8" />
<line x1="76.3" y1="604.95" x2="78.9" y2="604.95" stroke="#222" stroke-width="0.9" />
<rect x="84.8" y="614.63" width="4" height="37.97" fill="#d31e3b"/>
<line x1="86.8" y1="614.63" x2="86.8" y2="613.09" stroke="#222" stroke-width="0.8" />
<line x1="85.5" y1="613.09" x2="88.1" y2="613.09" stroke="#222" stroke-width="0.9" />
<rect x="91.6" y="612.31" width="4" height="40.29" fill="#15528f"/>
<line x1="93.6" y1="612.31" x2="93.6" y2="609.99" stroke="#222" stroke-width="0.8" />
<line x1="92.3" y1="609.99" x2="94.9" y2="609.99" stroke="#222" stroke-width="0.9" />
<rect x="100.8" y="614.63" width="4" height="37.97" fill="#d31e3b"/>
<line x1="102.8" y1="614.63" x2="102.8" y2="613.09" stroke="#222" stroke-width="0.8" />
<line x1="101.5" y1="613.09" x2="104.1" y2="613.09" stroke="#222" stroke-width="0.9" />
<rect x="107.6" y="609.99" width="4" height="42.61" fill="#15528f"/>
<line x1="109.6" y1="609.99" x2="109.6" y2="607.66" stroke="#222" stroke-width="0.8" />
<line x1="108.3" y1="607.66" x2="110.9" y2="607.66" stroke="#222" stroke-width="0.9" />
<rect x="116.8" y="614.63" width="4" height="37.97" fill="#d31e3b"/>
<line x1="118.8" y1="614.63" x2="118.8" y2="613.09" stroke="#222" stroke-width="0.8" />
<line x1="117.5" y1="613.09" x2="120.1" y2="613.09" stroke="#222" stroke-width="0.9" />
<rect x="123.6" y="615.41" width="4" height="37.19" fill="#15528f"/>
<line x1="125.6" y1="615.41" x2="125.6" y2="613.47" stroke="#222" stroke-width="0.8" />
<line x1="124.3" y1="613.47" x2="126.9" y2="613.47" stroke="#222" stroke-width="0.9" />
<rect x="132.8" y="614.63" width="4" height="37.97" fill="#d31e3b"/>
<line x1="134.8" y1="614.63" x2="134.8" y2="613.09" stroke="#222" stroke-width="0.8" />
<line x1="133.5" y1="613.09" x2="136.1" y2="613.09" stroke="#222" stroke-width="0.9" />
<rect x="139.6" y="616.96" width="4" height="35.64" fill="#15528f"/>
<line x1="141.6" y1="616.96" x2="141.6" y2="615.8" stroke="#222" stroke-width="0.8" />
<line x1="140.3" y1="615.8" x2="142.9" y2="615.8" stroke="#222" stroke-width="0.9" />
<rect x="148.8" y="614.63" width="4" height="37.97" fill="#d31e3b"/>
<line x1="150.8" y1="614.63" x2="150.8" y2="613.09" stroke="#222" stroke-width="0.8" />
<line x1="149.5" y1="613.09" x2="152.1" y2="613.09" stroke="#222" stroke-width="0.9" />
<rect x="155.6" y="620.83" width="4" height="31.77" fill="#15528f"/>
<line x1="157.6" y1="620.83" x2="157.6" y2="619.67" stroke="#222" stroke-width="0.8" />
<line x1="156.3" y1="619.67" x2="158.9" y2="619.67" stroke="#222" stroke-width="0.9" />
<rect x="164.8" y="614.63" width="4" height="37.97" fill="#d31e3b"/>
<line x1="166.8" y1="614.63" x2="166.8" y2="610.76" stroke="#222" stroke-width="0.8" />
<line x1="165.5" y1="610.76" x2="168.1" y2="610.76" stroke="#222" stroke-width="0.9" />
<rect x="171.6" y="563.5" width="4" height="89.1" fill="#15528f"/>
<line x1="173.6" y1="563.5" x2="173.6" y2="561.56" stroke="#222" stroke-width="0.8" />
<line x1="172.3" y1="561.56" x2="174.9" y2="561.56" stroke="#222" stroke-width="0.9" />
<rect x="180.8" y="614.63" width="4" height="37.97" fill="#d31e3b"/>
<line x1="182.8" y1="614.63" x2="182.8" y2="613.09" stroke="#222" stroke-width="0.8" />
<line x1="181.5" y1="613.09" x2="184.1" y2="613.09" stroke="#222" stroke-width="0.9" />
<rect x="187.6" y="625.48" width="4" height="27.12" fill="#15528f"/>
<line x1="189.6" y1="625.48" x2="189.6" y2="624.32" stroke="#222" stroke-width="0.8" />
<line x1="188.3" y1="624.32" x2="190.9" y2="624.32" stroke="#222" stroke-width="0.9" />
<rect x="196.8" y="614.63" width="4" height="37.97" fill="#d31e3b"/>
<line x1="198.8" y1="614.63" x2="198.8" y2="613.09" stroke="#222" stroke-width="0.8" />
<line x1="197.5" y1="613.09" x2="200.1" y2="613.09" stroke="#222" stroke-width="0.9" />
<rect x="203.6" y="608.44" width="4" height="44.16" fill="#15528f"/>
<line x1="205.6" y1="608.44" x2="205.6" y2="604.95" stroke="#222" stroke-width="0.8" />
<line x1="204.3" y1="604.95" x2="206.9" y2="604.95" stroke="#222" stroke-width="0.9" />
<rect x="212.8" y="614.63" width="4" height="37.97" fill="#d31e3b"/>
<line x1="214.8" y1="614.63" x2="214.8" y2="613.09" stroke="#222" stroke-width="0.8" />
<line x1="213.5" y1="613.09" x2="216.1" y2="613.09" stroke="#222" stroke-width="0.9" />
<rect x="219.6" y="598.36" width="4" height="54.24" fill="#15528f"/>
<line x1="221.6" y1="598.36" x2="221.6" y2="593.72" stroke="#222" stroke-width="0.8" />
<line x1="220.3" y1="593.72" x2="222.9" y2="593.72" stroke="#222" stroke-width="0.9" />
<rect x="228.8" y="614.63" width="4" height="37.97" fill="#d31e3b"/>
<line x1="230.8" y1="614.63" x2="230.8" y2="613.09" stroke="#222" stroke-width="0.8" />
<line x1="229.5" y1="613.09" x2="232.1" y2="613.09" stroke="#222" stroke-width="0.9" />
<rect x="235.6" y="613.09" width="4" height="39.51" fill="#15528f"/>
<line x1="237.6" y1="613.09" x2="237.6" y2="608.82" stroke="#222" stroke-width="0.8" />
<line x1="236.3" y1="608.82" x2="238.9" y2="608.82" stroke="#222" stroke-width="0.9" />
<rect x="244.8" y="614.63" width="4" height="37.97" fill="#d31e3b"/>
<line x1="246.8" y1="614.63" x2="246.8" y2="613.09" stroke="#222" stroke-width="0.8" />
<line x1="245.5" y1="613.09" x2="248.1" y2="613.09" stroke="#222" stroke-width="0.9" />
<rect x="251.6" y="620.45" width="4" height="32.15" fill="#15528f"/>
<line x1="253.6" y1="620.45" x2="253.6" y2="615.02" stroke="#222" stroke-width="0.8" />
<line x1="252.3" y1="615.02" x2="254.9" y2="615.02" stroke="#222" stroke-width="0.9" />
<rect x="260.8" y="614.63" width="4" height="37.97" fill="#d31e3b"/>
<line x1="262.8" y1="614.63" x2="262.8" y2="613.47" stroke="#222" stroke-width="0.8" />
<line x1="261.5" y1="613.47" x2="264.1" y2="613.47" stroke="#222" stroke-width="0.9" />
<rect x="267.6" y="618.51" width="4" height="34.09" fill="#15528f"/>
<line x1="269.6" y1="618.51" x2="269.6" y2="616.18" stroke="#222" stroke-width="0.8" />
<line x1="268.3" y1="616.18" x2="270.9" y2="616.18" stroke="#222" stroke-width="0.9" />
<rect x="276.8" y="614.63" width="4" height="37.97" fill="#d31e3b"/>
<line x1="278.8" y1="614.63" x2="278.8" y2="613.86" stroke="#222" stroke-width="0.8" />
<line x1="277.5" y1="613.86" x2="280.1" y2="613.86" stroke="#222" stroke-width="0.9" />
<rect x="283.6" y="613.09" width="4" height="39.51" fill="#15528f"/>
<line x1="285.6" y1="613.09" x2="285.6" y2="611.92" stroke="#222" stroke-width="0.8" />
<line x1="284.3" y1="611.92" x2="286.9" y2="611.92" stroke="#222" stroke-width="0.9" />
<text x="59.9" y="660.6" font-size="8.2" fill="#222" text-anchor="end" transform="rotate(-45 59.9 660.6)" >G-6-P</text>
<text x="75.9" y="660.6" font-size="8.2" fill="#222" text-anchor="end" transform="rotate(-45 75.9 660.6)" >F-6-P</text>
<text x="91.9" y="660.6" font-size="8.2" fill="#222" text-anchor="end" transform="rotate(-45 91.9 660.6)" >FBP</text>
<text x="107.9" y="660.6" font-size="8.2" fill="#222" text-anchor="end" transform="rotate(-45 107.9 660.6)" >DHAP</text>
<text x="123.9" y="660.6" font-size="8.2" fill="#222" text-anchor="end" transform="rotate(-45 123.9 660.6)" >PEP</text>
<text x="139.9" y="660.6" font-size="8.2" fill="#222" text-anchor="end" transform="rotate(-45 139.9 660.6)" >Pyruvate</text>
<text x="155.9" y="660.6" font-size="8.2" fill="#222" text-anchor="end" transform="rotate(-45 155.9 660.6)" >Lactate</text>
<text x="171.9" y="660.6" font-size="8.2" fill="#222" text-anchor="end" transform="rotate(-45 171.9 660.6)" >R5P</text>
<text x="187.9" y="660.6" font-size="8.2" fill="#222" text-anchor="end" transform="rotate(-45 187.9 660.6)" >S7P</text>
<text x="203.9" y="660.6" font-size="8.2" fill="#222" text-anchor="end" transform="rotate(-45 203.9 660.6)" >ATP</text>
<text x="219.9" y="660.6" font-size="8.2" fill="#222" text-anchor="end" transform="rotate(-45 219.9 660.6)" >UTP</text>
<text x="235.9" y="660.6" font-size="8.2" fill="#222" text-anchor="end" transform="rotate(-45 235.9 660.6)" >CTP</text>
<text x="251.9" y="660.6" font-size="8.2" fill="#222" text-anchor="end" transform="rotate(-45 251.9 660.6)" >GTP</text>
<text x="267.9" y="660.6" font-size="8.2" fill="#222" text-anchor="end" transform="rotate(-45 267.9 660.6)" >A-ketoglutarate</text>
<text x="283.9" y="660.6" font-size="8.2" fill="#222" text-anchor="end" transform="rotate(-45 283.9 660.6)" >Malate</text>
<text x="17.7" y="606" font-size="9.6" fill="#222" stroke="#222" stroke-width="0.18" text-anchor="middle" textLength="79.4" lengthAdjust="spacingAndGlyphs" transform="rotate(-90 17.7 606)" >Fold change normalized</text>
<text x="29" y="606.2" font-size="9.6" fill="#222" stroke="#222" stroke-width="0.18" text-anchor="middle" textLength="30.5" lengthAdjust="spacingAndGlyphs" transform="rotate(-90 29 606.2)" >to control</text>
<rect x="225" y="561.2" width="10.5" height="5" fill="#d31e3b"/>
<rect x="225" y="574.8" width="10.5" height="5" fill="#15528f"/>
<text x="238.75" y="566.6" font-size="8.6" fill="#222" textLength="24.5" lengthAdjust="spacingAndGlyphs" >Control</text>
<text x="238.75" y="580" font-size="8.6" fill="#222" textLength="33.2" lengthAdjust="spacingAndGlyphs" >MCT4-KD</text>
<text x="317.6" y="545.8" font-size="11.5" fill="#111" font-weight="bold" >J</text>
<line x1="340.8" y1="556.1" x2="340.8" y2="653" stroke="#333" stroke-width="1.3" />
<line x1="337.8" y1="652.5" x2="340.8" y2="652.5" stroke="#2a2a2a" stroke-width="0.9" />
<text x="335.2" y="655.3" font-size="8.2" fill="#222" text-anchor="end" >6.6</text>
<line x1="337.8" y1="633.22" x2="340.8" y2="633.22" stroke="#2a2a2a" stroke-width="0.9" />
<text x="335.2" y="636.02" font-size="8.2" fill="#222" text-anchor="end" >6.8</text>
<line x1="337.8" y1="613.94" x2="340.8" y2="613.94" stroke="#2a2a2a" stroke-width="0.9" />
<text x="335.2" y="616.74" font-size="8.2" fill="#222" text-anchor="end" >7.0</text>
<line x1="337.8" y1="594.66" x2="340.8" y2="594.66" stroke="#2a2a2a" stroke-width="0.9" />
<text x="335.2" y="597.46" font-size="8.2" fill="#222" text-anchor="end" >7.2</text>
<line x1="337.8" y1="575.38" x2="340.8" y2="575.38" stroke="#2a2a2a" stroke-width="0.9" />
<text x="335.2" y="578.18" font-size="8.2" fill="#222" text-anchor="end" >7.4</text>
<line x1="337.8" y1="556.1" x2="340.8" y2="556.1" stroke="#2a2a2a" stroke-width="0.9" />
<text x="335.2" y="558.9" font-size="8.2" fill="#222" text-anchor="end" >7.6</text>
<line x1="340.3" y1="652.5" x2="405" y2="652.5" stroke="#333" stroke-width="1.3" />
<line x1="351.2" y1="652.5" x2="351.2" y2="655.1" stroke="#2a2a2a" stroke-width="0.9" />
<line x1="372.9" y1="652.5" x2="372.9" y2="655.1" stroke="#2a2a2a" stroke-width="0.9" />
<line x1="394.2" y1="652.5" x2="394.2" y2="655.1" stroke="#2a2a2a" stroke-width="0.9" />
<text x="319" y="600.7" font-size="9.6" fill="#222" stroke="#222" stroke-width="0.18" text-anchor="middle" textLength="11.6" lengthAdjust="spacingAndGlyphs" transform="rotate(-90 319 600.7)" >pHi</text>
<circle cx="351.2" cy="583.09" r="1.9" fill="#d31e3b"/>
<circle cx="346.2" cy="592.25" r="1.9" fill="#d31e3b"/>
<circle cx="356.2" cy="590.8" r="1.9" fill="#d31e3b"/>
<line x1="345.2" y1="588.88" x2="357.2" y2="588.88" stroke="#d31e3b" stroke-width="0.8" />
<line x1="351.2" y1="591.77" x2="351.2" y2="585.98" stroke="#d31e3b" stroke-width="0.8" />
<line x1="348.2" y1="585.98" x2="354.2" y2="585.98" stroke="#d31e3b" stroke-width="0.8" />
<line x1="348.2" y1="591.77" x2="354.2" y2="591.77" stroke="#d31e3b" stroke-width="0.8" />
<rect x="371" y="573.48" width="3.8" height="3.8" fill="#15528f"/>
<rect x="371" y="583.12" width="3.8" height="3.8" fill="#15528f"/>
<rect x="371" y="592.76" width="3.8" height="3.8" fill="#15528f"/>
<line x1="365.9" y1="585.02" x2="379.9" y2="585.02" stroke="#15528f" stroke-width="0.8" />
<line x1="372.9" y1="589.84" x2="372.9" y2="580.2" stroke="#15528f" stroke-width="0.8" />
<line x1="369.9" y1="580.2" x2="375.9" y2="580.2" stroke="#15528f" stroke-width="0.8" />
<line x1="369.9" y1="589.84" x2="375.9" y2="589.84" stroke="#15528f" stroke-width="0.8" />
<polygon points="388.8,613.21 386.79,616.83 390.81,616.83" fill="#3cb54a"/>
<polygon points="399.6,614.18 397.59,617.8 401.61,617.8" fill="#3cb54a"/>
<polygon points="394.2,637.79 392.19,641.42 396.21,641.42" fill="#3cb54a"/>
<line x1="387.2" y1="623.58" x2="401.2" y2="623.58" stroke="#3cb54a" stroke-width="0.8" />
<line x1="394.2" y1="631.29" x2="394.2" y2="615.87" stroke="#3cb54a" stroke-width="0.8" />
<line x1="391.2" y1="615.87" x2="397.2" y2="615.87" stroke="#3cb54a" stroke-width="0.8" />
<line x1="391.2" y1="631.29" x2="397.2" y2="631.29" stroke="#3cb54a" stroke-width="0.8" />
<polyline fill="none" stroke="#444" stroke-width="0.9" points="351.2,555 351.2,550.8 394.2,550.8 394.2,586.5"/>
<polygon points="373,544.3 373.49,545.37 374.66,545.51 373.8,546.31 374.03,547.47 373,546.89 371.97,547.47 372.2,546.31 371.34,545.51 372.51,545.37" fill="#1a1a1a" stroke="#1a1a1a" stroke-width="0.35" stroke-linejoin="round"/>
<polyline fill="none" stroke="#444" stroke-width="0.9" points="351.2,568.8 351.2,564.2 372.9,564.2 372.9,568.8"/>
<text x="362.8" y="561.8" font-size="9" fill="#222" text-anchor="middle" >ns</text>
<text x="352.9" y="660.8" font-size="8.1" fill="#222" text-anchor="end" transform="rotate(-45 352.9 660.8)" >Control</text>
<text x="374.6" y="660.8" font-size="8.1" fill="#222" text-anchor="end" transform="rotate(-45 374.6 660.8)" >MCT4-KD</text>
<text x="395.9" y="660.8" font-size="8.1" fill="#222" text-anchor="end" transform="rotate(-45 395.9 660.8)" >MCT1-KD</text>
<text x="413.35" y="545.8" font-size="11.5" fill="#111" font-weight="bold" >K</text>
<line x1="441.1" y1="556.1" x2="441.1" y2="653" stroke="#333" stroke-width="1.3" />
<line x1="438.1" y1="652.5" x2="441.1" y2="652.5" stroke="#2a2a2a" stroke-width="0.9" />
<text x="435.5" y="655.3" font-size="8.2" fill="#222" text-anchor="end" >0</text>
<line x1="438.1" y1="633.22" x2="441.1" y2="633.22" stroke="#2a2a2a" stroke-width="0.9" />
<text x="435.5" y="636.02" font-size="8.2" fill="#222" text-anchor="end" >10</text>
<line x1="438.1" y1="613.94" x2="441.1" y2="613.94" stroke="#2a2a2a" stroke-width="0.9" />
<text x="435.5" y="616.74" font-size="8.2" fill="#222" text-anchor="end" >20</text>
<line x1="438.1" y1="594.66" x2="441.1" y2="594.66" stroke="#2a2a2a" stroke-width="0.9" />
<text x="435.5" y="597.46" font-size="8.2" fill="#222" text-anchor="end" >30</text>
<line x1="438.1" y1="575.38" x2="441.1" y2="575.38" stroke="#2a2a2a" stroke-width="0.9" />
<text x="435.5" y="578.18" font-size="8.2" fill="#222" text-anchor="end" >40</text>
<line x1="438.1" y1="556.1" x2="441.1" y2="556.1" stroke="#2a2a2a" stroke-width="0.9" />
<text x="435.5" y="558.9" font-size="8.2" fill="#222" text-anchor="end" >50</text>
<line x1="440.6" y1="652.5" x2="505" y2="652.5" stroke="#333" stroke-width="1.3" />
<line x1="451.2" y1="652.5" x2="451.2" y2="655.1" stroke="#2a2a2a" stroke-width="0.9" />
<line x1="472.7" y1="652.5" x2="472.7" y2="655.1" stroke="#2a2a2a" stroke-width="0.9" />
<line x1="494.2" y1="652.5" x2="494.2" y2="655.1" stroke="#2a2a2a" stroke-width="0.9" />
<text x="420.8" y="604.1" font-size="9.6" fill="#222" stroke="#222" stroke-width="0.18" text-anchor="middle" textLength="71.6" lengthAdjust="spacingAndGlyphs" transform="rotate(-90 420.8 604.1)" >% BrdU incorporation</text>
<circle cx="451.2" cy="583.09" r="1.9" fill="#d31e3b"/>
<circle cx="446.2" cy="604.3" r="1.9" fill="#d31e3b"/>
<circle cx="456.2" cy="603.91" r="1.9" fill="#d31e3b"/>
<line x1="444.2" y1="597.17" x2="458.2" y2="597.17" stroke="#d31e3b" stroke-width="0.8" />
<line x1="451.2" y1="604.3" x2="451.2" y2="590.03" stroke="#d31e3b" stroke-width="0.8" />
<line x1="448.2" y1="590.03" x2="454.2" y2="590.03" stroke="#d31e3b" stroke-width="0.8" />
<line x1="448.2" y1="604.3" x2="454.2" y2="604.3" stroke="#d31e3b" stroke-width="0.8" />
<rect x="465.8" y="602.98" width="3.8" height="3.8" fill="#15528f"/>
<rect x="470.8" y="602.4" width="3.8" height="3.8" fill="#15528f"/>
<rect x="475.8" y="602.4" width="3.8" height="3.8" fill="#15528f"/>
<line x1="466.7" y1="604.49" x2="478.7" y2="604.49" stroke="#15528f" stroke-width="0.8" />
<line x1="472.7" y1="604.78" x2="472.7" y2="604.2" stroke="#15528f" stroke-width="0.8" />
<line x1="469.7" y1="604.2" x2="475.7" y2="604.2" stroke="#15528f" stroke-width="0.8" />
<line x1="469.7" y1="604.78" x2="475.7" y2="604.78" stroke="#15528f" stroke-width="0.8" />
<polygon points="489.2,617.55 487.19,621.17 491.21,621.17" fill="#3cb54a"/>
<polygon points="499.2,619.48 497.19,623.1 501.21,623.1" fill="#3cb54a"/>
<polygon points="494.2,626.23 492.19,629.85 496.21,629.85" fill="#3cb54a"/>
<line x1="487.2" y1="623.19" x2="501.2" y2="623.19" stroke="#3cb54a" stroke-width="0.8" />
<line x1="494.2" y1="626.09" x2="494.2" y2="620.3" stroke="#3cb54a" stroke-width="0.8" />
<line x1="491.2" y1="620.3" x2="497.2" y2="620.3" stroke="#3cb54a" stroke-width="0.8" />
<line x1="491.2" y1="626.09" x2="497.2" y2="626.09" stroke="#3cb54a" stroke-width="0.8" />
<polyline fill="none" stroke="#444" stroke-width="0.9" points="451.2,564.6 451.2,559.3 494.2,559.3 494.2,600.4"/>
<polygon points="473,551.7 473.49,552.77 474.66,552.91 473.8,553.71 474.03,554.87 473,554.29 471.97,554.87 472.2,553.71 471.34,552.91 472.51,552.77" fill="#1a1a1a" stroke="#1a1a1a" stroke-width="0.35" stroke-linejoin="round"/>
<polyline fill="none" stroke="#444" stroke-width="0.9" points="451.2,576.2 451.2,572 472.7,572 472.7,582.6"/>
<text x="462.8" y="568" font-size="9" fill="#222" text-anchor="middle" >ns</text>
<text x="452.9" y="660.8" font-size="8.1" fill="#222" text-anchor="end" transform="rotate(-45 452.9 660.8)" >Control</text>
<text x="474.4" y="660.8" font-size="8.1" fill="#222" text-anchor="end" transform="rotate(-45 474.4 660.8)" >MCT4-KD</text>
<text x="495.9" y="660.8" font-size="8.1" fill="#222" text-anchor="end" transform="rotate(-45 495.9 660.8)" >MCT1-KD</text>
<rect x="0" y="0" width="520" height="710" fill="none" stroke="#111" stroke-width="2.2"/>
</svg>
</body></html>
